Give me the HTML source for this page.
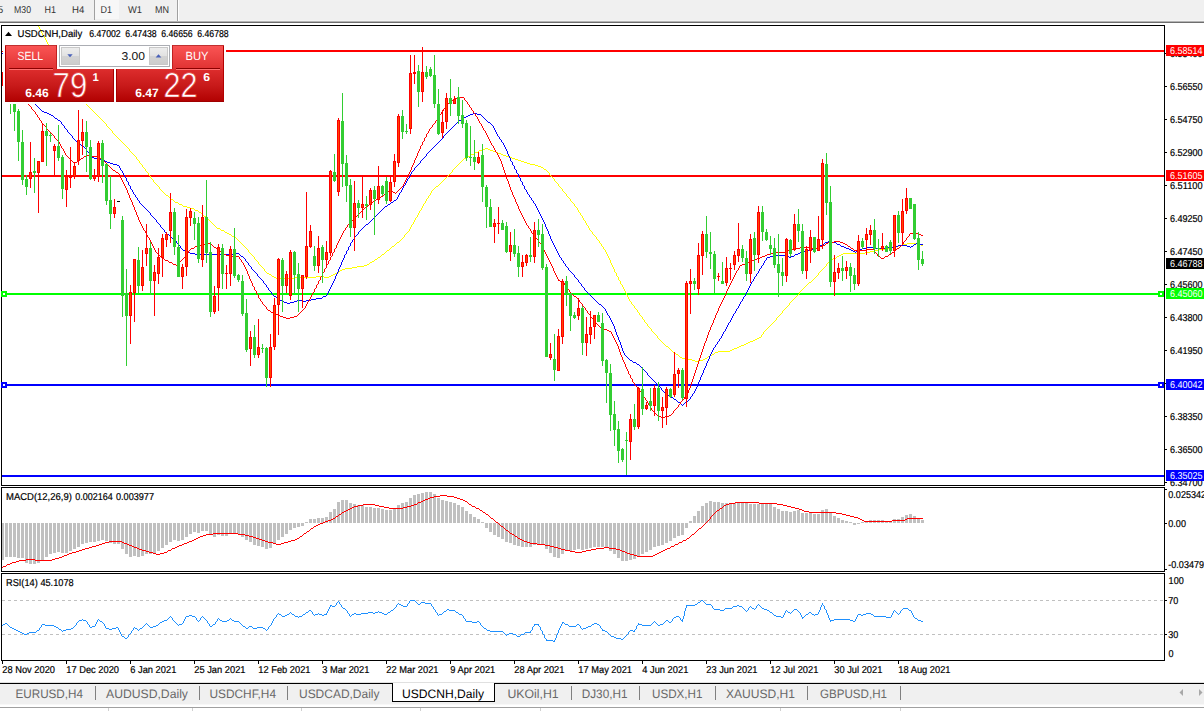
<!DOCTYPE html>
<html><head><meta charset="utf-8"><title>USDCNH</title>
<style>
html,body{margin:0;padding:0;background:#fff;}
body{width:1204px;height:711px;position:relative;overflow:hidden;}
svg{position:absolute;left:0;top:0;font-family:"Liberation Sans",sans-serif;text-rendering:geometricPrecision;}
</style></head><body>
<svg width="1204" height="711" viewBox="0 0 1204 711">
<defs>
<linearGradient id="gt" x1="0" y1="45" x2="0" y2="70" gradientUnits="userSpaceOnUse"><stop offset="0" stop-color="#fb5555"/><stop offset="1" stop-color="#df3131"/></linearGradient>
<linearGradient id="gb" x1="0" y1="69" x2="0" y2="102" gradientUnits="userSpaceOnUse"><stop offset="0" stop-color="#dd2d2d"/><stop offset="0.5" stop-color="#c81a1a"/><stop offset="1" stop-color="#b10000"/></linearGradient>
<linearGradient id="gg" x1="0" y1="47" x2="0" y2="65" gradientUnits="userSpaceOnUse"><stop offset="0" stop-color="#eeeeee"/><stop offset="0.48" stop-color="#e2e2e2"/><stop offset="0.52" stop-color="#d3d3d3"/><stop offset="1" stop-color="#cccccc"/></linearGradient>
<clipPath id="cm"><rect x="2" y="26" width="1162" height="459"/></clipPath>
<clipPath id="cr"><rect x="1166" y="0" width="38" height="711"/></clipPath>
</defs>
<rect x="0" y="0" width="1204" height="711" fill="#fff"/>
<g shape-rendering="crispEdges">
<rect x="0" y="0" width="1204" height="20" fill="#f0f0f0"/>
<rect x="0" y="20" width="1204" height="1" fill="#f4f4f4"/>
<rect x="0" y="21" width="1204" height="1" fill="#b4b4b4"/>
<rect x="0" y="22" width="1204" height="1" fill="#6e6e6e"/>
<rect x="95" y="0" width="24" height="19" fill="#f7f7f7"/>
<rect x="94" y="0" width="1" height="20" fill="#a0a0a0"/>
<rect x="177" y="0" width="1" height="21" fill="#a0a0a0"/>
<rect x="178" y="0" width="1" height="21" fill="#ffffff"/>
</g>
<g clip-path="url(#cm)" shape-rendering="crispEdges">
<rect x="2" y="50" width="1162" height="2" fill="#ff0000"/>
<rect x="2" y="175" width="1162" height="2" fill="#ff0000"/>
<rect x="2" y="293" width="1162" height="2" fill="#00ff00"/>
<rect x="2" y="384" width="1162" height="2" fill="#0000ff"/>
<rect x="2" y="475" width="1162" height="2" fill="#0000ff"/>
<path d="M38 26.5h1M39 27.5h1M39 28.5h1M40 29.5h1M40 30.5h1M41 31.5h1M41 32.5h1M42 33.5h1M42 34.5h1M43 35.5h1M44 36.5h1M44 37.5h1M45 38.5h1M45 39.5h1M46 40.5h1M46 41.5h1M47 42.5h1M47 43.5h1M48 44.5h1M49 45.5h1M49 46.5h1M50 47.5h1M50 48.5h1M51 49.5h1M52 50.5h1M52 51.5h1M53 52.5h1M53 53.5h1M54 54.5h1M54 55.5h1M55 56.5h1" fill="none" stroke="#ffff00" stroke-width="1" shape-rendering="crispEdges"/>
<path d="M80 95.5h1M81 96.5h1M81 97.5h1M82 98.5h1M83 99.5h1M83 100.5h1M84 101.5h1M85 102.5h1M85 103.5h1M86 104.5h1M87 105.5h1M88 106.5h1M89 107.5h1M90 108.5h1M91 109.5h1M92 110.5h1M93 111.5h1M94 112.5h1M95 113.5h1M96 114.5h1M97 115.5h1M98 116.5h1M99 117.5h1M100 118.5h1M101 119.5h1M102 120.5h1M103 121.5h1M104 122.5h1M105 123.5h1M106 124.5h1M106 125.5h1M107 126.5h1M108 127.5h1M109 128.5h1M110 129.5h1M111 130.5h1M112 131.5h1M112 132.5h1M113 133.5h1M114 134.5h1M115 135.5h1M116 136.5h1M117 137.5h1M118 138.5h1M119 139.5h1M120 140.5h1M121 141.5h1M122 142.5h1M123 143.5h1M124 144.5h1M125 145.5h1M126 146.5h1M127 147.5h1M128 148.5h1M485 148.5h3M129 149.5h1M482 149.5h3M488 149.5h2M129 150.5h1M479 150.5h3M490 150.5h3M130 151.5h1M478 151.5h1M493 151.5h3M131 152.5h1M475 152.5h3M496 152.5h2M132 153.5h1M474 153.5h1M498 153.5h3M133 154.5h1M471 154.5h3M501 154.5h2M134 155.5h1M470 155.5h1M503 155.5h3M135 156.5h1M467 156.5h3M506 156.5h3M136 157.5h1M466 157.5h1M509 157.5h3M136 158.5h1M464 158.5h2M512 158.5h3M137 159.5h1M463 159.5h1M515 159.5h3M138 160.5h1M462 160.5h1M518 160.5h3M139 161.5h1M461 161.5h1M521 161.5h3M139 162.5h1M460 162.5h1M524 162.5h3M140 163.5h1M459 163.5h1M527 163.5h3M141 164.5h1M458 164.5h1M530 164.5h5M142 165.5h1M457 165.5h1M535 165.5h3M142 166.5h1M456 166.5h1M538 166.5h3M143 167.5h1M455 167.5h1M541 167.5h2M144 168.5h1M454 168.5h1M543 168.5h1M145 169.5h1M453 169.5h1M544 169.5h2M145 170.5h1M452 170.5h1M546 170.5h1M146 171.5h1M452 171.5h1M547 171.5h1M147 172.5h1M451 172.5h1M548 172.5h1M148 173.5h1M450 173.5h1M549 173.5h1M148 174.5h1M449 174.5h1M549 174.5h1M149 175.5h1M448 175.5h1M550 175.5h1M150 176.5h1M447 176.5h1M551 176.5h1M150 177.5h1M446 177.5h1M552 177.5h1M151 178.5h1M445 178.5h1M553 178.5h1M152 179.5h1M444 179.5h1M554 179.5h1M153 180.5h1M443 180.5h1M554 180.5h1M153 181.5h1M442 181.5h1M555 181.5h1M154 182.5h1M441 182.5h1M556 182.5h1M155 183.5h1M440 183.5h1M557 183.5h1M156 184.5h1M439 184.5h1M558 184.5h1M157 185.5h1M438 185.5h1M558 185.5h1M158 186.5h1M436 186.5h2M559 186.5h1M159 187.5h1M435 187.5h1M560 187.5h1M159 188.5h1M434 188.5h1M561 188.5h1M160 189.5h1M433 189.5h1M562 189.5h1M161 190.5h1M432 190.5h1M562 190.5h1M162 191.5h1M431 191.5h1M563 191.5h1M163 192.5h1M431 192.5h1M564 192.5h1M164 193.5h1M430 193.5h1M565 193.5h1M165 194.5h1M430 194.5h1M566 194.5h1M166 195.5h2M429 195.5h1M566 195.5h1M168 196.5h1M428 196.5h1M567 196.5h1M169 197.5h1M428 197.5h1M568 197.5h1M170 198.5h1M427 198.5h1M569 198.5h1M171 199.5h2M426 199.5h1M570 199.5h1M173 200.5h1M426 200.5h1M570 200.5h1M174 201.5h1M425 201.5h1M571 201.5h1M175 202.5h3M425 202.5h1M572 202.5h1M178 203.5h1M424 203.5h1M573 203.5h1M179 204.5h3M423 204.5h1M574 204.5h1M182 205.5h1M423 205.5h1M574 205.5h1M183 206.5h4M422 206.5h1M575 206.5h1M187 207.5h3M422 207.5h1M576 207.5h1M190 208.5h4M421 208.5h1M577 208.5h1M194 209.5h1M421 209.5h1M577 209.5h1M195 210.5h3M420 210.5h1M578 210.5h1M198 211.5h1M419 211.5h1M578 211.5h1M199 212.5h2M419 212.5h1M579 212.5h1M201 213.5h1M418 213.5h1M580 213.5h1M202 214.5h1M418 214.5h1M580 214.5h1M203 215.5h1M417 215.5h1M581 215.5h1M204 216.5h2M417 216.5h1M582 216.5h1M206 217.5h1M416 217.5h1M582 217.5h1M207 218.5h1M415 218.5h1M583 218.5h1M208 219.5h1M415 219.5h1M583 219.5h1M209 220.5h1M414 220.5h1M584 220.5h1M210 221.5h1M414 221.5h1M585 221.5h1M211 222.5h1M413 222.5h1M585 222.5h1M212 223.5h1M413 223.5h1M586 223.5h1M213 224.5h1M412 224.5h1M586 224.5h1M214 225.5h1M411 225.5h1M587 225.5h1M215 226.5h1M411 226.5h1M588 226.5h1M216 227.5h1M410 227.5h1M588 227.5h1M217 228.5h3M410 228.5h1M589 228.5h1M220 229.5h1M409 229.5h1M589 229.5h1M221 230.5h3M409 230.5h1M590 230.5h1M224 231.5h1M408 231.5h1M591 231.5h1M225 232.5h2M407 232.5h1M592 232.5h1M227 233.5h2M406 233.5h1M592 233.5h1M229 234.5h2M405 234.5h1M593 234.5h1M231 235.5h1M404 235.5h1M594 235.5h1M232 236.5h2M404 236.5h1M595 236.5h1M234 237.5h2M403 237.5h1M596 237.5h1M236 238.5h1M402 238.5h1M596 238.5h1M237 239.5h1M401 239.5h1M597 239.5h1M238 240.5h1M400 240.5h1M598 240.5h1M239 241.5h1M399 241.5h1M599 241.5h1M240 242.5h1M397 242.5h2M599 242.5h1M241 243.5h1M396 243.5h1M600 243.5h1M907 243.5h11M242 244.5h1M395 244.5h1M601 244.5h1M902 244.5h5M918 244.5h3M243 245.5h1M394 245.5h1M601 245.5h1M899 245.5h3M921 245.5h2M244 246.5h1M392 246.5h2M602 246.5h1M895 246.5h4M245 247.5h1M391 247.5h1M603 247.5h1M892 247.5h3M246 248.5h1M390 248.5h1M603 248.5h1M885 248.5h7M247 249.5h1M389 249.5h1M604 249.5h1M879 249.5h6M248 250.5h1M387 250.5h2M605 250.5h1M874 250.5h5M248 251.5h1M386 251.5h1M605 251.5h1M870 251.5h4M249 252.5h1M385 252.5h1M606 252.5h1M865 252.5h5M250 253.5h1M384 253.5h1M606 253.5h1M843 253.5h22M251 254.5h1M382 254.5h2M607 254.5h1M841 254.5h2M252 255.5h1M381 255.5h1M607 255.5h1M839 255.5h2M253 256.5h1M380 256.5h1M608 256.5h1M837 256.5h2M254 257.5h1M378 257.5h2M608 257.5h1M836 257.5h1M254 258.5h1M377 258.5h1M609 258.5h1M833 258.5h3M255 259.5h1M375 259.5h2M609 259.5h1M832 259.5h1M256 260.5h1M374 260.5h1M610 260.5h1M830 260.5h2M257 261.5h1M372 261.5h2M610 261.5h1M829 261.5h1M258 262.5h1M370 262.5h2M610 262.5h1M828 262.5h1M258 263.5h1M369 263.5h1M611 263.5h1M827 263.5h1M259 264.5h1M367 264.5h2M611 264.5h1M826 264.5h1M260 265.5h1M364 265.5h3M612 265.5h1M826 265.5h1M261 266.5h1M357 266.5h7M612 266.5h1M825 266.5h1M262 267.5h1M352 267.5h5M613 267.5h1M824 267.5h1M263 268.5h1M345 268.5h7M613 268.5h1M823 268.5h1M264 269.5h1M342 269.5h3M614 269.5h1M822 269.5h1M264 270.5h1M340 270.5h2M614 270.5h1M821 270.5h1M265 271.5h1M339 271.5h1M614 271.5h1M820 271.5h1M266 272.5h1M337 272.5h2M615 272.5h1M819 272.5h1M267 273.5h2M335 273.5h2M616 273.5h1M818 273.5h1M269 274.5h2M333 274.5h2M616 274.5h1M818 274.5h1M271 275.5h1M331 275.5h2M616 275.5h1M817 275.5h1M272 276.5h2M316 276.5h8M329 276.5h2M617 276.5h1M816 276.5h1M274 277.5h2M295 277.5h21M324 277.5h5M618 277.5h1M815 277.5h1M276 278.5h19M618 278.5h1M814 278.5h1M618 279.5h1M813 279.5h1M619 280.5h1M812 280.5h1M620 281.5h1M811 281.5h1M620 282.5h1M809 282.5h2M620 283.5h1M808 283.5h1M621 284.5h1M807 284.5h1M622 285.5h1M806 285.5h1M622 286.5h1M805 286.5h1M623 287.5h1M804 287.5h1M623 288.5h1M803 288.5h1M624 289.5h1M802 289.5h1M624 290.5h1M801 290.5h1M625 291.5h1M800 291.5h1M625 292.5h1M799 292.5h1M626 293.5h1M799 293.5h1M626 294.5h1M798 294.5h1M627 295.5h1M797 295.5h1M627 296.5h1M796 296.5h1M628 297.5h1M795 297.5h1M628 298.5h1M794 298.5h1M629 299.5h1M793 299.5h1M629 300.5h1M792 300.5h1M630 301.5h1M791 301.5h1M631 302.5h1M790 302.5h1M631 303.5h1M789 303.5h1M632 304.5h1M789 304.5h1M633 305.5h1M788 305.5h1M634 306.5h1M787 306.5h1M634 307.5h1M786 307.5h1M635 308.5h1M785 308.5h1M636 309.5h1M784 309.5h1M637 310.5h1M783 310.5h1M637 311.5h1M782 311.5h1M638 312.5h1M782 312.5h1M639 313.5h1M781 313.5h1M639 314.5h1M780 314.5h1M640 315.5h1M779 315.5h1M641 316.5h1M778 316.5h1M642 317.5h1M777 317.5h1M642 318.5h1M776 318.5h1M643 319.5h1M776 319.5h1M644 320.5h1M775 320.5h1M644 321.5h1M774 321.5h1M645 322.5h1M773 322.5h1M646 323.5h1M772 323.5h1M647 324.5h1M771 324.5h1M647 325.5h1M770 325.5h1M648 326.5h1M769 326.5h1M649 327.5h1M768 327.5h1M650 328.5h1M767 328.5h1M651 329.5h1M766 329.5h1M651 330.5h1M765 330.5h1M652 331.5h1M764 331.5h1M653 332.5h1M763 332.5h1M654 333.5h1M763 333.5h1M655 334.5h1M762 334.5h1M656 335.5h1M761 335.5h1M657 336.5h1M761 336.5h1M657 337.5h1M759 337.5h2M658 338.5h1M757 338.5h2M659 339.5h1M755 339.5h2M660 340.5h1M753 340.5h2M661 341.5h1M750 341.5h3M662 342.5h1M748 342.5h2M663 343.5h1M746 343.5h2M664 344.5h1M744 344.5h2M665 345.5h1M741 345.5h3M666 346.5h2M739 346.5h2M668 347.5h1M737 347.5h2M669 348.5h1M734 348.5h3M670 349.5h1M732 349.5h2M671 350.5h1M730 350.5h2M672 351.5h1M718 351.5h12M673 352.5h2M715 352.5h3M675 353.5h1M714 353.5h1M676 354.5h2M712 354.5h2M678 355.5h1M710 355.5h2M679 356.5h1M708 356.5h2M680 357.5h2M707 357.5h1M682 358.5h5M705 358.5h2M687 359.5h5M703 359.5h2M692 360.5h3M698 360.5h5M695 361.5h3" fill="none" stroke="#ffff00" stroke-width="1" shape-rendering="crispEdges"/>
<path d="M35 104.5h1M36 105.5h1M37 106.5h1M38 107.5h1M39 108.5h1M40 109.5h1M41 110.5h1M42 111.5h2M44 112.5h3M47 113.5h2M473 113.5h4M49 114.5h2M470 114.5h3M477 114.5h4M51 115.5h2M468 115.5h2M481 115.5h1M53 116.5h1M466 116.5h2M482 116.5h1M54 117.5h1M464 117.5h2M483 117.5h1M55 118.5h2M462 118.5h2M484 118.5h1M57 119.5h1M461 119.5h1M485 119.5h1M58 120.5h2M459 120.5h2M486 120.5h1M60 121.5h1M458 121.5h1M487 121.5h1M61 122.5h1M457 122.5h1M488 122.5h2M61 123.5h1M456 123.5h1M490 123.5h1M62 124.5h1M455 124.5h1M491 124.5h1M63 125.5h1M454 125.5h1M492 125.5h1M64 126.5h1M453 126.5h1M493 126.5h1M64 127.5h1M452 127.5h1M493 127.5h1M65 128.5h1M451 128.5h1M494 128.5h1M66 129.5h1M450 129.5h1M494 129.5h1M67 130.5h1M449 130.5h1M495 130.5h1M67 131.5h1M448 131.5h1M495 131.5h1M68 132.5h1M447 132.5h1M496 132.5h1M69 133.5h1M446 133.5h1M496 133.5h1M70 134.5h1M445 134.5h1M497 134.5h1M71 135.5h1M444 135.5h1M497 135.5h1M72 136.5h1M443 136.5h1M498 136.5h1M72 137.5h1M443 137.5h1M499 137.5h1M73 138.5h1M442 138.5h1M499 138.5h1M74 139.5h1M441 139.5h1M500 139.5h1M75 140.5h1M440 140.5h1M501 140.5h1M76 141.5h1M439 141.5h1M501 141.5h1M77 142.5h2M438 142.5h1M502 142.5h1M79 143.5h1M437 143.5h1M503 143.5h1M80 144.5h1M436 144.5h1M503 144.5h1M81 145.5h1M435 145.5h1M504 145.5h1M82 146.5h2M434 146.5h1M504 146.5h1M84 147.5h1M433 147.5h1M505 147.5h1M85 148.5h1M432 148.5h1M505 148.5h1M86 149.5h1M431 149.5h1M506 149.5h1M86 150.5h1M430 150.5h1M506 150.5h1M87 151.5h1M429 151.5h1M507 151.5h1M88 152.5h1M428 152.5h1M507 152.5h1M89 153.5h1M427 153.5h1M507 153.5h1M90 154.5h1M426 154.5h1M508 154.5h1M90 155.5h1M426 155.5h1M508 155.5h1M91 156.5h1M425 156.5h1M509 156.5h1M92 157.5h2M424 157.5h1M509 157.5h1M94 158.5h5M423 158.5h1M510 158.5h1M99 159.5h3M422 159.5h1M510 159.5h1M102 160.5h3M421 160.5h1M510 160.5h1M105 161.5h2M420 161.5h1M511 161.5h1M107 162.5h3M420 162.5h1M512 162.5h1M110 163.5h3M419 163.5h1M512 163.5h1M113 164.5h4M418 164.5h1M512 164.5h1M117 165.5h2M417 165.5h1M513 165.5h1M119 166.5h1M416 166.5h1M514 166.5h1M119 167.5h1M415 167.5h1M514 167.5h1M120 168.5h1M414 168.5h1M514 168.5h1M120 169.5h1M414 169.5h1M515 169.5h1M121 170.5h1M413 170.5h1M516 170.5h1M122 171.5h1M412 171.5h1M516 171.5h1M122 172.5h1M411 172.5h1M516 172.5h1M123 173.5h1M411 173.5h1M517 173.5h1M123 174.5h1M410 174.5h1M518 174.5h1M124 175.5h1M410 175.5h1M518 175.5h1M124 176.5h1M409 176.5h1M518 176.5h1M125 177.5h1M409 177.5h1M519 177.5h1M126 178.5h1M408 178.5h1M520 178.5h1M126 179.5h1M407 179.5h1M520 179.5h1M126 180.5h1M407 180.5h1M520 180.5h1M127 181.5h1M406 181.5h1M521 181.5h1M128 182.5h1M406 182.5h1M522 182.5h1M128 183.5h1M405 183.5h1M522 183.5h1M128 184.5h1M405 184.5h1M522 184.5h1M129 185.5h1M404 185.5h1M523 185.5h1M130 186.5h1M403 186.5h1M524 186.5h1M130 187.5h1M403 187.5h1M524 187.5h1M130 188.5h1M402 188.5h1M524 188.5h1M131 189.5h1M402 189.5h1M525 189.5h1M132 190.5h1M401 190.5h1M526 190.5h1M132 191.5h1M401 191.5h1M526 191.5h1M133 192.5h1M400 192.5h1M527 192.5h1M133 193.5h1M399 193.5h1M527 193.5h1M134 194.5h1M399 194.5h1M528 194.5h1M135 195.5h1M398 195.5h1M529 195.5h1M135 196.5h1M398 196.5h1M529 196.5h1M136 197.5h1M397 197.5h1M530 197.5h1M137 198.5h1M397 198.5h1M531 198.5h1M137 199.5h1M396 199.5h1M531 199.5h1M138 200.5h1M394 200.5h2M532 200.5h1M139 201.5h1M393 201.5h1M533 201.5h1M139 202.5h1M391 202.5h2M533 202.5h1M140 203.5h1M390 203.5h1M534 203.5h1M141 204.5h1M388 204.5h2M535 204.5h1M142 205.5h1M387 205.5h1M535 205.5h1M143 206.5h1M385 206.5h2M536 206.5h1M144 207.5h1M384 207.5h1M536 207.5h1M145 208.5h1M383 208.5h1M537 208.5h1M146 209.5h1M382 209.5h1M537 209.5h1M147 210.5h1M381 210.5h1M538 210.5h1M148 211.5h1M380 211.5h1M538 211.5h1M149 212.5h1M379 212.5h1M539 212.5h1M150 213.5h1M378 213.5h1M539 213.5h1M150 214.5h1M377 214.5h1M540 214.5h1M151 215.5h1M376 215.5h1M540 215.5h1M152 216.5h1M375 216.5h1M541 216.5h1M153 217.5h1M374 217.5h1M541 217.5h1M154 218.5h1M373 218.5h1M542 218.5h1M155 219.5h1M372 219.5h1M542 219.5h1M156 220.5h1M371 220.5h1M543 220.5h1M156 221.5h1M370 221.5h1M543 221.5h1M157 222.5h1M369 222.5h1M544 222.5h1M158 223.5h1M368 223.5h1M544 223.5h1M159 224.5h1M366 224.5h2M545 224.5h1M160 225.5h1M365 225.5h1M545 225.5h1M160 226.5h1M364 226.5h1M545 226.5h1M161 227.5h1M363 227.5h1M546 227.5h1M162 228.5h1M362 228.5h1M546 228.5h1M163 229.5h1M361 229.5h1M547 229.5h1M164 230.5h1M360 230.5h1M547 230.5h1M164 231.5h1M359 231.5h1M548 231.5h1M165 232.5h1M358 232.5h1M548 232.5h1M166 233.5h1M358 233.5h1M548 233.5h1M167 234.5h2M357 234.5h1M549 234.5h1M169 235.5h1M356 235.5h1M549 235.5h1M170 236.5h1M355 236.5h1M550 236.5h1M171 237.5h1M354 237.5h1M550 237.5h1M172 238.5h2M354 238.5h1M550 238.5h1M174 239.5h1M353 239.5h1M551 239.5h1M175 240.5h1M352 240.5h1M551 240.5h1M176 241.5h1M352 241.5h1M552 241.5h1M828 241.5h3M176 242.5h1M351 242.5h1M552 242.5h1M825 242.5h3M831 242.5h5M177 243.5h1M350 243.5h1M553 243.5h1M824 243.5h1M836 243.5h1M916 243.5h3M178 244.5h1M350 244.5h1M553 244.5h1M822 244.5h2M837 244.5h3M914 244.5h2M919 244.5h4M179 245.5h1M350 245.5h1M554 245.5h1M820 245.5h2M840 245.5h1M898 245.5h9M913 245.5h1M180 246.5h1M349 246.5h1M554 246.5h1M819 246.5h1M841 246.5h3M893 246.5h5M907 246.5h3M911 246.5h2M180 247.5h1M348 247.5h1M555 247.5h1M817 247.5h2M844 247.5h2M867 247.5h8M886 247.5h7M910 247.5h1M181 248.5h1M348 248.5h1M555 248.5h1M814 248.5h3M846 248.5h3M862 248.5h5M875 248.5h11M182 249.5h1M348 249.5h1M556 249.5h1M811 249.5h3M849 249.5h2M860 249.5h2M183 250.5h3M347 250.5h1M556 250.5h1M807 250.5h4M851 250.5h2M858 250.5h2M186 251.5h1M346 251.5h1M557 251.5h1M804 251.5h3M853 251.5h2M856 251.5h2M187 252.5h3M346 252.5h1M557 252.5h1M800 252.5h4M855 252.5h1M190 253.5h5M235 253.5h4M346 253.5h1M558 253.5h1M798 253.5h2M195 254.5h40M239 254.5h1M345 254.5h1M558 254.5h1M795 254.5h3M240 255.5h1M344 255.5h1M559 255.5h1M774 255.5h12M794 255.5h1M241 256.5h2M344 256.5h1M559 256.5h1M770 256.5h4M786 256.5h3M791 256.5h3M243 257.5h1M344 257.5h1M560 257.5h1M767 257.5h3M789 257.5h2M244 258.5h1M343 258.5h1M561 258.5h1M766 258.5h1M245 259.5h1M343 259.5h1M561 259.5h1M766 259.5h1M245 260.5h1M342 260.5h1M562 260.5h1M765 260.5h1M246 261.5h1M342 261.5h1M563 261.5h1M764 261.5h1M247 262.5h1M341 262.5h1M563 262.5h1M764 262.5h1M248 263.5h1M341 263.5h1M564 263.5h1M763 263.5h1M248 264.5h1M341 264.5h1M565 264.5h1M763 264.5h1M249 265.5h1M340 265.5h1M565 265.5h1M762 265.5h1M250 266.5h1M340 266.5h1M566 266.5h1M761 266.5h1M251 267.5h1M339 267.5h1M567 267.5h1M761 267.5h1M251 268.5h1M339 268.5h1M568 268.5h1M760 268.5h1M252 269.5h1M338 269.5h1M568 269.5h1M759 269.5h1M253 270.5h1M338 270.5h1M569 270.5h1M759 270.5h1M254 271.5h1M338 271.5h1M570 271.5h1M758 271.5h1M255 272.5h1M337 272.5h1M571 272.5h1M758 272.5h1M256 273.5h1M337 273.5h1M572 273.5h1M757 273.5h1M257 274.5h1M336 274.5h1M573 274.5h1M756 274.5h1M257 275.5h1M336 275.5h1M574 275.5h1M756 275.5h1M258 276.5h1M335 276.5h1M574 276.5h1M755 276.5h1M259 277.5h1M335 277.5h1M575 277.5h1M754 277.5h1M260 278.5h1M335 278.5h1M576 278.5h1M754 278.5h1M261 279.5h1M334 279.5h1M577 279.5h1M753 279.5h1M262 280.5h1M334 280.5h1M578 280.5h1M753 280.5h1M263 281.5h1M333 281.5h1M578 281.5h1M752 281.5h1M263 282.5h1M333 282.5h1M579 282.5h1M751 282.5h1M264 283.5h1M332 283.5h1M580 283.5h1M751 283.5h1M265 284.5h1M332 284.5h1M581 284.5h1M750 284.5h1M266 285.5h1M331 285.5h1M581 285.5h1M750 285.5h1M266 286.5h1M331 286.5h1M582 286.5h1M749 286.5h1M267 287.5h1M330 287.5h1M583 287.5h1M749 287.5h1M268 288.5h1M330 288.5h1M584 288.5h1M748 288.5h1M268 289.5h1M329 289.5h1M584 289.5h1M748 289.5h1M269 290.5h1M329 290.5h1M585 290.5h1M747 290.5h1M270 291.5h1M328 291.5h1M586 291.5h1M747 291.5h1M271 292.5h1M328 292.5h1M587 292.5h1M746 292.5h1M271 293.5h1M327 293.5h1M588 293.5h1M746 293.5h1M272 294.5h1M327 294.5h1M589 294.5h1M745 294.5h1M273 295.5h1M326 295.5h1M590 295.5h1M745 295.5h1M274 296.5h2M323 296.5h3M591 296.5h1M744 296.5h1M276 297.5h1M322 297.5h1M592 297.5h1M743 297.5h1M277 298.5h2M316 298.5h6M593 298.5h1M743 298.5h1M279 299.5h1M311 299.5h5M594 299.5h1M742 299.5h1M280 300.5h2M297 300.5h5M306 300.5h5M595 300.5h1M742 300.5h1M282 301.5h2M294 301.5h3M302 301.5h4M596 301.5h1M741 301.5h1M284 302.5h3M290 302.5h4M597 302.5h1M740 302.5h1M287 303.5h3M598 303.5h1M740 303.5h1M599 304.5h2M739 304.5h1M601 305.5h1M739 305.5h1M602 306.5h1M738 306.5h1M603 307.5h1M738 307.5h1M604 308.5h1M737 308.5h1M605 309.5h1M736 309.5h1M605 310.5h1M736 310.5h1M606 311.5h1M735 311.5h1M606 312.5h1M735 312.5h1M607 313.5h1M734 313.5h1M607 314.5h1M733 314.5h1M608 315.5h1M733 315.5h1M609 316.5h1M732 316.5h1M609 317.5h1M732 317.5h1M610 318.5h1M731 318.5h1M610 319.5h1M731 319.5h1M611 320.5h1M730 320.5h1M611 321.5h1M730 321.5h1M612 322.5h1M729 322.5h1M612 323.5h1M728 323.5h1M613 324.5h1M728 324.5h1M613 325.5h1M727 325.5h1M614 326.5h1M727 326.5h1M614 327.5h1M726 327.5h1M614 328.5h1M726 328.5h1M615 329.5h1M725 329.5h1M615 330.5h1M725 330.5h1M615 331.5h1M724 331.5h1M616 332.5h1M723 332.5h1M616 333.5h1M723 333.5h1M616 334.5h1M722 334.5h1M617 335.5h1M722 335.5h1M617 336.5h1M721 336.5h1M618 337.5h1M721 337.5h1M618 338.5h1M720 338.5h1M618 339.5h1M719 339.5h1M619 340.5h1M719 340.5h1M619 341.5h1M718 341.5h1M620 342.5h1M717 342.5h1M620 343.5h1M717 343.5h1M620 344.5h1M716 344.5h1M621 345.5h1M715 345.5h1M621 346.5h1M715 346.5h1M621 347.5h1M714 347.5h1M622 348.5h1M713 348.5h1M622 349.5h1M713 349.5h1M622 350.5h1M712 350.5h1M623 351.5h1M712 351.5h1M623 352.5h1M711 352.5h1M624 353.5h1M711 353.5h1M624 354.5h1M710 354.5h1M625 355.5h1M710 355.5h1M626 356.5h1M709 356.5h1M627 357.5h1M709 357.5h1M628 358.5h1M709 358.5h1M629 359.5h1M708 359.5h1M630 360.5h2M708 360.5h1M632 361.5h1M707 361.5h1M633 362.5h3M707 362.5h1M636 363.5h1M706 363.5h1M637 364.5h2M706 364.5h1M639 365.5h1M706 365.5h1M640 366.5h1M705 366.5h1M641 367.5h1M705 367.5h1M642 368.5h1M704 368.5h1M643 369.5h1M704 369.5h1M644 370.5h1M703 370.5h1M645 371.5h1M703 371.5h1M646 372.5h1M703 372.5h1M647 373.5h1M702 373.5h1M647 374.5h1M702 374.5h1M648 375.5h1M701 375.5h1M649 376.5h1M701 376.5h1M650 377.5h1M700 377.5h1M651 378.5h1M700 378.5h1M652 379.5h1M700 379.5h1M653 380.5h1M699 380.5h1M654 381.5h1M699 381.5h1M655 382.5h1M698 382.5h1M656 383.5h1M698 383.5h1M657 384.5h1M697 384.5h1M658 385.5h1M697 385.5h1M659 386.5h1M697 386.5h1M660 387.5h1M696 387.5h1M661 388.5h1M696 388.5h1M661 389.5h1M695 389.5h1M662 390.5h1M695 390.5h1M663 391.5h1M694 391.5h1M664 392.5h1M694 392.5h1M665 393.5h2M693 393.5h1M667 394.5h1M692 394.5h1M668 395.5h2M692 395.5h1M670 396.5h1M691 396.5h1M671 397.5h2M690 397.5h1M673 398.5h1M690 398.5h1M674 399.5h2M689 399.5h1M676 400.5h1M688 400.5h1M677 401.5h1M687 401.5h1M678 402.5h2M685 402.5h2M680 403.5h1M684 403.5h1M681 404.5h1M683 404.5h1M682 405.5h1" fill="none" stroke="#0000ff" stroke-width="1" shape-rendering="crispEdges"/>
<path d="M460 97.5h4M455 98.5h5M464 98.5h1M454 99.5h1M464 99.5h1M451 100.5h3M465 100.5h1M450 101.5h1M466 101.5h1M449 102.5h1M467 102.5h1M448 103.5h1M467 103.5h1M28 104.5h1M447 104.5h1M468 104.5h1M29 105.5h1M447 105.5h1M469 105.5h1M30 106.5h1M446 106.5h1M469 106.5h1M31 107.5h1M445 107.5h1M470 107.5h1M31 108.5h1M444 108.5h1M471 108.5h1M32 109.5h1M443 109.5h1M471 109.5h1M33 110.5h1M443 110.5h1M472 110.5h1M34 111.5h1M442 111.5h1M473 111.5h1M35 112.5h1M441 112.5h1M473 112.5h1M35 113.5h1M441 113.5h1M474 113.5h1M36 114.5h1M440 114.5h1M475 114.5h1M37 115.5h1M439 115.5h1M475 115.5h1M37 116.5h1M439 116.5h1M476 116.5h1M38 117.5h1M438 117.5h1M477 117.5h1M39 118.5h1M437 118.5h1M477 118.5h1M39 119.5h1M437 119.5h1M478 119.5h1M40 120.5h1M436 120.5h1M478 120.5h1M41 121.5h1M435 121.5h1M479 121.5h1M41 122.5h1M435 122.5h1M479 122.5h1M42 123.5h1M434 123.5h1M480 123.5h1M43 124.5h1M433 124.5h1M481 124.5h1M44 125.5h1M432 125.5h1M481 125.5h1M45 126.5h1M432 126.5h1M482 126.5h1M46 127.5h1M431 127.5h1M482 127.5h1M46 128.5h1M430 128.5h1M483 128.5h1M47 129.5h1M429 129.5h1M483 129.5h1M48 130.5h1M429 130.5h1M484 130.5h1M49 131.5h1M428 131.5h1M485 131.5h1M50 132.5h1M428 132.5h1M485 132.5h1M51 133.5h1M427 133.5h1M486 133.5h1M52 134.5h1M426 134.5h1M486 134.5h1M53 135.5h1M426 135.5h1M487 135.5h1M54 136.5h1M426 136.5h1M487 136.5h1M54 137.5h1M425 137.5h1M488 137.5h1M55 138.5h1M424 138.5h1M488 138.5h1M56 139.5h1M424 139.5h1M489 139.5h1M57 140.5h1M424 140.5h1M489 140.5h1M58 141.5h1M423 141.5h1M490 141.5h1M59 142.5h1M422 142.5h1M490 142.5h1M59 143.5h1M422 143.5h1M491 143.5h1M60 144.5h1M422 144.5h1M491 144.5h1M60 145.5h1M421 145.5h1M492 145.5h1M61 146.5h1M420 146.5h1M493 146.5h1M61 147.5h1M420 147.5h1M493 147.5h1M62 148.5h1M420 148.5h1M494 148.5h1M63 149.5h1M419 149.5h1M494 149.5h1M63 150.5h1M419 150.5h1M495 150.5h1M64 151.5h1M418 151.5h1M495 151.5h1M64 152.5h1M418 152.5h1M496 152.5h1M65 153.5h1M417 153.5h1M497 153.5h1M65 154.5h1M417 154.5h1M497 154.5h1M66 155.5h1M86 155.5h5M417 155.5h1M498 155.5h1M67 156.5h1M84 156.5h2M91 156.5h6M416 156.5h1M498 156.5h1M68 157.5h1M83 157.5h1M97 157.5h2M416 157.5h1M499 157.5h1M69 158.5h1M81 158.5h2M99 158.5h2M415 158.5h1M499 158.5h1M70 159.5h1M80 159.5h1M101 159.5h1M415 159.5h1M500 159.5h1M71 160.5h1M78 160.5h2M102 160.5h2M414 160.5h1M500 160.5h1M72 161.5h1M77 161.5h1M104 161.5h1M414 161.5h1M501 161.5h1M73 162.5h1M75 162.5h2M105 162.5h1M414 162.5h1M501 162.5h1M74 163.5h1M106 163.5h1M413 163.5h1M501 163.5h1M107 164.5h1M413 164.5h1M502 164.5h1M108 165.5h1M412 165.5h1M502 165.5h1M109 166.5h1M412 166.5h1M502 166.5h1M110 167.5h1M411 167.5h1M503 167.5h1M111 168.5h1M411 168.5h1M503 168.5h1M112 169.5h1M411 169.5h1M503 169.5h1M113 170.5h2M410 170.5h1M504 170.5h1M115 171.5h1M410 171.5h1M504 171.5h1M116 172.5h2M409 172.5h1M504 172.5h1M118 173.5h1M409 173.5h1M505 173.5h1M119 174.5h1M408 174.5h1M505 174.5h1M119 175.5h1M408 175.5h1M505 175.5h1M120 176.5h1M407 176.5h1M506 176.5h1M120 177.5h1M407 177.5h1M506 177.5h1M121 178.5h1M406 178.5h1M506 178.5h1M121 179.5h1M406 179.5h1M507 179.5h1M122 180.5h1M405 180.5h1M507 180.5h1M122 181.5h1M405 181.5h1M508 181.5h1M123 182.5h1M404 182.5h1M508 182.5h1M123 183.5h1M404 183.5h1M508 183.5h1M124 184.5h1M403 184.5h1M509 184.5h1M124 185.5h1M403 185.5h1M509 185.5h1M125 186.5h1M402 186.5h1M509 186.5h1M125 187.5h1M401 187.5h1M510 187.5h1M126 188.5h1M400 188.5h1M510 188.5h1M126 189.5h1M399 189.5h1M510 189.5h1M127 190.5h1M390 190.5h1M398 190.5h1M511 190.5h1M127 191.5h1M388 191.5h2M391 191.5h2M397 191.5h1M511 191.5h1M127 192.5h1M387 192.5h1M393 192.5h2M396 192.5h1M512 192.5h1M128 193.5h1M386 193.5h1M395 193.5h1M512 193.5h1M128 194.5h1M384 194.5h2M512 194.5h1M129 195.5h1M383 195.5h1M513 195.5h1M129 196.5h1M381 196.5h2M513 196.5h1M129 197.5h1M380 197.5h1M514 197.5h1M130 198.5h1M378 198.5h2M514 198.5h1M130 199.5h1M376 199.5h2M515 199.5h1M131 200.5h1M375 200.5h1M515 200.5h1M131 201.5h1M373 201.5h2M515 201.5h1M132 202.5h1M371 202.5h2M516 202.5h1M132 203.5h1M370 203.5h1M516 203.5h1M132 204.5h1M369 204.5h1M517 204.5h1M133 205.5h1M368 205.5h1M517 205.5h1M133 206.5h1M366 206.5h2M518 206.5h1M134 207.5h1M365 207.5h1M518 207.5h1M134 208.5h1M364 208.5h1M518 208.5h1M134 209.5h1M363 209.5h1M519 209.5h1M135 210.5h1M362 210.5h1M519 210.5h1M135 211.5h1M361 211.5h1M520 211.5h1M136 212.5h1M360 212.5h1M520 212.5h1M136 213.5h1M359 213.5h1M521 213.5h1M136 214.5h1M358 214.5h1M521 214.5h1M137 215.5h1M357 215.5h1M522 215.5h1M137 216.5h1M356 216.5h1M522 216.5h1M138 217.5h1M355 217.5h1M523 217.5h1M138 218.5h1M354 218.5h1M523 218.5h1M138 219.5h1M353 219.5h1M524 219.5h1M139 220.5h1M352 220.5h1M524 220.5h1M139 221.5h1M351 221.5h1M525 221.5h1M140 222.5h1M350 222.5h1M525 222.5h1M140 223.5h1M349 223.5h1M526 223.5h1M141 224.5h1M348 224.5h1M526 224.5h1M141 225.5h1M347 225.5h1M527 225.5h1M142 226.5h1M347 226.5h1M528 226.5h1M142 227.5h1M346 227.5h1M528 227.5h1M143 228.5h1M345 228.5h1M529 228.5h1M143 229.5h1M345 229.5h1M530 229.5h1M144 230.5h1M344 230.5h1M530 230.5h1M145 231.5h1M343 231.5h1M531 231.5h1M145 232.5h1M343 232.5h1M531 232.5h1M146 233.5h1M342 233.5h1M532 233.5h1M910 233.5h8M146 234.5h1M342 234.5h1M533 234.5h1M909 234.5h1M918 234.5h3M147 235.5h1M341 235.5h1M534 235.5h1M909 235.5h1M921 235.5h2M147 236.5h1M341 236.5h1M534 236.5h1M908 236.5h1M148 237.5h1M340 237.5h1M535 237.5h1M907 237.5h1M149 238.5h1M340 238.5h1M536 238.5h1M906 238.5h1M149 239.5h1M339 239.5h1M537 239.5h1M906 239.5h1M150 240.5h1M339 240.5h1M538 240.5h1M905 240.5h1M150 241.5h1M338 241.5h1M538 241.5h1M834 241.5h6M904 241.5h1M151 242.5h1M338 242.5h1M539 242.5h1M828 242.5h6M840 242.5h3M903 242.5h1M151 243.5h1M207 243.5h3M337 243.5h1M540 243.5h1M826 243.5h2M843 243.5h2M903 243.5h1M152 244.5h1M201 244.5h6M210 244.5h2M337 244.5h1M541 244.5h1M825 244.5h1M845 244.5h2M902 244.5h1M152 245.5h1M198 245.5h3M212 245.5h1M336 245.5h1M541 245.5h1M823 245.5h2M847 245.5h1M901 245.5h1M153 246.5h1M195 246.5h3M213 246.5h1M336 246.5h1M542 246.5h1M820 246.5h3M848 246.5h2M900 246.5h1M153 247.5h1M194 247.5h1M214 247.5h2M336 247.5h1M542 247.5h1M800 247.5h9M817 247.5h3M850 247.5h1M899 247.5h1M154 248.5h1M191 248.5h3M216 248.5h1M335 248.5h1M543 248.5h1M793 248.5h7M809 248.5h8M851 248.5h2M897 248.5h2M154 249.5h1M190 249.5h1M217 249.5h2M334 249.5h1M543 249.5h1M791 249.5h2M853 249.5h1M867 249.5h7M896 249.5h1M155 250.5h1M189 250.5h1M219 250.5h1M334 250.5h1M544 250.5h1M788 250.5h3M854 250.5h13M874 250.5h1M895 250.5h1M155 251.5h1M188 251.5h1M220 251.5h1M334 251.5h1M544 251.5h1M786 251.5h2M874 251.5h1M894 251.5h1M156 252.5h1M188 252.5h1M221 252.5h2M333 252.5h1M545 252.5h1M774 252.5h12M875 252.5h1M892 252.5h2M157 253.5h1M187 253.5h1M223 253.5h1M332 253.5h1M545 253.5h1M771 253.5h3M876 253.5h1M891 253.5h1M158 254.5h1M186 254.5h1M224 254.5h2M332 254.5h1M546 254.5h1M767 254.5h4M877 254.5h1M889 254.5h2M159 255.5h1M185 255.5h1M226 255.5h6M332 255.5h1M546 255.5h1M765 255.5h2M877 255.5h1M888 255.5h1M160 256.5h2M185 256.5h1M232 256.5h7M331 256.5h1M547 256.5h1M762 256.5h3M878 256.5h2M885 256.5h3M162 257.5h1M184 257.5h1M239 257.5h1M330 257.5h1M547 257.5h1M760 257.5h2M880 257.5h1M884 257.5h1M163 258.5h1M183 258.5h1M239 258.5h1M330 258.5h1M548 258.5h1M757 258.5h3M881 258.5h3M164 259.5h1M182 259.5h1M240 259.5h1M330 259.5h1M548 259.5h1M755 259.5h2M165 260.5h3M181 260.5h1M241 260.5h1M329 260.5h1M549 260.5h1M752 260.5h3M168 261.5h1M180 261.5h1M241 261.5h1M328 261.5h1M549 261.5h1M750 261.5h2M169 262.5h3M179 262.5h1M242 262.5h1M328 262.5h1M550 262.5h1M747 262.5h3M172 263.5h1M178 263.5h1M243 263.5h1M328 263.5h1M550 263.5h1M745 263.5h2M173 264.5h3M177 264.5h1M243 264.5h1M327 264.5h1M551 264.5h1M742 264.5h3M176 265.5h1M244 265.5h1M326 265.5h1M551 265.5h1M740 265.5h2M244 266.5h1M326 266.5h1M552 266.5h1M739 266.5h1M245 267.5h1M326 267.5h1M552 267.5h1M739 267.5h1M245 268.5h1M325 268.5h1M553 268.5h1M738 268.5h1M246 269.5h1M324 269.5h1M553 269.5h1M738 269.5h1M246 270.5h1M324 270.5h1M553 270.5h1M737 270.5h1M247 271.5h1M324 271.5h1M554 271.5h1M736 271.5h1M247 272.5h1M323 272.5h1M554 272.5h1M736 272.5h1M247 273.5h1M322 273.5h1M555 273.5h1M735 273.5h1M248 274.5h1M322 274.5h1M555 274.5h1M735 274.5h1M248 275.5h1M322 275.5h1M556 275.5h1M734 275.5h1M249 276.5h1M321 276.5h1M556 276.5h1M734 276.5h1M249 277.5h1M320 277.5h1M557 277.5h1M733 277.5h1M249 278.5h1M320 278.5h1M557 278.5h1M733 278.5h1M250 279.5h1M320 279.5h1M558 279.5h1M732 279.5h1M250 280.5h1M319 280.5h1M558 280.5h2M732 280.5h1M251 281.5h1M318 281.5h1M560 281.5h2M731 281.5h1M251 282.5h1M318 282.5h1M562 282.5h2M731 282.5h1M252 283.5h1M318 283.5h1M564 283.5h1M730 283.5h1M252 284.5h1M317 284.5h1M564 284.5h1M730 284.5h1M252 285.5h1M316 285.5h1M565 285.5h1M729 285.5h1M253 286.5h1M316 286.5h1M566 286.5h1M729 286.5h1M254 287.5h1M316 287.5h1M566 287.5h1M728 287.5h1M254 288.5h1M315 288.5h1M567 288.5h1M728 288.5h1M254 289.5h1M314 289.5h1M568 289.5h1M727 289.5h1M255 290.5h1M314 290.5h1M569 290.5h1M727 290.5h1M256 291.5h1M314 291.5h1M569 291.5h1M726 291.5h1M256 292.5h1M313 292.5h1M570 292.5h1M726 292.5h1M256 293.5h1M312 293.5h1M571 293.5h1M726 293.5h1M257 294.5h1M312 294.5h1M572 294.5h1M725 294.5h1M258 295.5h1M311 295.5h1M573 295.5h1M725 295.5h1M258 296.5h1M311 296.5h1M574 296.5h2M724 296.5h1M258 297.5h1M310 297.5h1M576 297.5h1M724 297.5h1M259 298.5h1M310 298.5h1M577 298.5h1M723 298.5h1M260 299.5h1M309 299.5h1M578 299.5h1M723 299.5h1M260 300.5h1M309 300.5h1M579 300.5h1M722 300.5h1M261 301.5h1M308 301.5h1M579 301.5h1M722 301.5h1M262 302.5h1M307 302.5h1M580 302.5h1M721 302.5h1M262 303.5h1M307 303.5h1M581 303.5h1M721 303.5h1M263 304.5h1M306 304.5h1M582 304.5h1M720 304.5h1M264 305.5h1M306 305.5h1M582 305.5h1M720 305.5h1M265 306.5h1M305 306.5h1M583 306.5h1M719 306.5h1M266 307.5h1M305 307.5h1M584 307.5h1M719 307.5h1M266 308.5h1M304 308.5h1M585 308.5h1M718 308.5h1M267 309.5h1M303 309.5h1M585 309.5h1M718 309.5h1M268 310.5h2M302 310.5h1M586 310.5h1M718 310.5h1M270 311.5h1M301 311.5h1M587 311.5h1M717 311.5h1M271 312.5h3M300 312.5h1M587 312.5h1M717 312.5h1M274 313.5h1M299 313.5h1M588 313.5h1M716 313.5h1M275 314.5h3M298 314.5h1M589 314.5h1M716 314.5h1M278 315.5h2M297 315.5h1M590 315.5h1M715 315.5h1M280 316.5h3M294 316.5h3M590 316.5h1M715 316.5h1M283 317.5h3M290 317.5h4M591 317.5h1M715 317.5h1M286 318.5h4M592 318.5h1M714 318.5h1M593 319.5h1M714 319.5h1M593 320.5h1M713 320.5h1M594 321.5h1M713 321.5h1M595 322.5h1M713 322.5h1M596 323.5h1M712 323.5h1M597 324.5h1M712 324.5h1M598 325.5h1M711 325.5h1M599 326.5h1M711 326.5h1M600 327.5h2M710 327.5h1M602 328.5h2M710 328.5h1M604 329.5h3M710 329.5h1M607 330.5h2M709 330.5h1M609 331.5h2M709 331.5h1M611 332.5h1M708 332.5h1M611 333.5h1M708 333.5h1M612 334.5h1M708 334.5h1M612 335.5h1M707 335.5h1M613 336.5h1M707 336.5h1M613 337.5h1M707 337.5h1M614 338.5h1M706 338.5h1M614 339.5h1M706 339.5h1M615 340.5h1M706 340.5h1M615 341.5h1M705 341.5h1M616 342.5h1M705 342.5h1M616 343.5h1M704 343.5h1M617 344.5h1M704 344.5h1M617 345.5h1M704 345.5h1M618 346.5h1M703 346.5h1M618 347.5h1M703 347.5h1M618 348.5h1M703 348.5h1M619 349.5h1M702 349.5h1M619 350.5h1M702 350.5h1M619 351.5h1M702 351.5h1M620 352.5h1M701 352.5h1M620 353.5h1M701 353.5h1M620 354.5h1M701 354.5h1M621 355.5h1M700 355.5h1M621 356.5h1M700 356.5h1M622 357.5h1M700 357.5h1M622 358.5h1M699 358.5h1M622 359.5h1M699 359.5h1M623 360.5h1M699 360.5h1M623 361.5h1M698 361.5h1M624 362.5h1M698 362.5h1M624 363.5h1M698 363.5h1M625 364.5h1M697 364.5h1M625 365.5h1M697 365.5h1M625 366.5h1M697 366.5h1M626 367.5h1M696 367.5h1M626 368.5h1M696 368.5h1M627 369.5h1M696 369.5h1M627 370.5h1M695 370.5h1M628 371.5h1M695 371.5h1M628 372.5h1M695 372.5h1M628 373.5h1M694 373.5h1M629 374.5h1M694 374.5h1M630 375.5h1M694 375.5h1M630 376.5h1M693 376.5h1M630 377.5h1M693 377.5h1M631 378.5h1M693 378.5h1M632 379.5h1M692 379.5h1M632 380.5h1M692 380.5h1M632 381.5h1M692 381.5h1M633 382.5h1M691 382.5h1M634 383.5h1M691 383.5h1M634 384.5h1M691 384.5h1M635 385.5h1M690 385.5h1M636 386.5h1M690 386.5h1M637 387.5h1M690 387.5h1M637 388.5h1M689 388.5h1M638 389.5h1M689 389.5h1M639 390.5h1M688 390.5h1M640 391.5h1M688 391.5h1M641 392.5h1M688 392.5h1M641 393.5h1M687 393.5h1M642 394.5h1M687 394.5h1M643 395.5h1M686 395.5h1M643 396.5h1M685 396.5h1M644 397.5h1M684 397.5h1M645 398.5h1M684 398.5h1M645 399.5h1M683 399.5h1M646 400.5h1M682 400.5h1M647 401.5h1M681 401.5h1M647 402.5h1M680 402.5h1M648 403.5h1M680 403.5h1M648 404.5h1M679 404.5h1M649 405.5h1M678 405.5h1M650 406.5h1M678 406.5h1M650 407.5h1M677 407.5h1M651 408.5h1M676 408.5h1M651 409.5h1M675 409.5h1M652 410.5h1M674 410.5h1M653 411.5h1M673 411.5h1M654 412.5h1M673 412.5h1M655 413.5h1M672 413.5h1M656 414.5h1M671 414.5h1M657 415.5h1M669 415.5h2M658 416.5h3M665 416.5h4M661 417.5h4" fill="none" stroke="#ff0000" stroke-width="1" shape-rendering="crispEdges"/>
<rect x="10" y="95" width="1" height="19" fill="#32cd32"/>
<rect x="9" y="95" width="3" height="8" fill="#32cd32"/>
<rect x="14" y="95" width="1" height="36" fill="#32cd32"/>
<rect x="13" y="95" width="3" height="17" fill="#32cd32"/>
<rect x="18" y="109" width="1" height="52" fill="#32cd32"/>
<rect x="17" y="111" width="3" height="31" fill="#32cd32"/>
<rect x="22" y="130" width="1" height="55" fill="#32cd32"/>
<rect x="21" y="142" width="3" height="38" fill="#32cd32"/>
<rect x="26" y="175" width="1" height="20" fill="#32cd32"/>
<rect x="25" y="179" width="3" height="8" fill="#32cd32"/>
<rect x="30" y="142" width="1" height="46" fill="#ff0000"/>
<rect x="29" y="172" width="3" height="7" fill="#ff0000"/>
<rect x="30" y="173" width="1" height="5" fill="#ff4500"/>
<rect x="34" y="158" width="1" height="35" fill="#32cd32"/>
<rect x="33" y="171" width="3" height="2" fill="#32cd32"/>
<rect x="38" y="161" width="1" height="52" fill="#ff0000"/>
<rect x="37" y="161" width="3" height="12" fill="#ff0000"/>
<rect x="38" y="162" width="1" height="10" fill="#ff4500"/>
<rect x="42" y="124" width="1" height="38" fill="#ff0000"/>
<rect x="41" y="131" width="3" height="31" fill="#ff0000"/>
<rect x="42" y="132" width="1" height="29" fill="#ff4500"/>
<rect x="46" y="123" width="1" height="43" fill="#32cd32"/>
<rect x="45" y="131" width="3" height="5" fill="#32cd32"/>
<rect x="50" y="133" width="1" height="9" fill="#32cd32"/>
<rect x="49" y="135" width="3" height="1" fill="#32cd32"/>
<rect x="54" y="144" width="1" height="32" fill="#ff0000"/>
<rect x="53" y="146" width="3" height="5" fill="#ff0000"/>
<rect x="54" y="147" width="1" height="3" fill="#ff4500"/>
<rect x="58" y="125" width="1" height="36" fill="#32cd32"/>
<rect x="57" y="146" width="3" height="12" fill="#32cd32"/>
<rect x="62" y="155" width="1" height="44" fill="#32cd32"/>
<rect x="61" y="157" width="3" height="32" fill="#32cd32"/>
<rect x="66" y="170" width="1" height="37" fill="#ff0000"/>
<rect x="65" y="176" width="3" height="14" fill="#ff0000"/>
<rect x="66" y="177" width="1" height="12" fill="#ff4500"/>
<rect x="70" y="147" width="1" height="41" fill="#ff0000"/>
<rect x="69" y="176" width="3" height="2" fill="#ff0000"/>
<rect x="74" y="162" width="1" height="17" fill="#ff0000"/>
<rect x="73" y="166" width="3" height="11" fill="#ff0000"/>
<rect x="74" y="167" width="1" height="9" fill="#ff4500"/>
<rect x="78" y="110" width="1" height="55" fill="#ff0000"/>
<rect x="77" y="140" width="3" height="21" fill="#ff0000"/>
<rect x="78" y="141" width="1" height="19" fill="#ff4500"/>
<rect x="82" y="119" width="1" height="36" fill="#ff0000"/>
<rect x="81" y="132" width="3" height="9" fill="#ff0000"/>
<rect x="82" y="133" width="1" height="7" fill="#ff4500"/>
<rect x="86" y="121" width="1" height="51" fill="#32cd32"/>
<rect x="85" y="132" width="3" height="15" fill="#32cd32"/>
<rect x="90" y="140" width="1" height="40" fill="#32cd32"/>
<rect x="89" y="147" width="3" height="32" fill="#32cd32"/>
<rect x="94" y="169" width="1" height="12" fill="#ff0000"/>
<rect x="93" y="176" width="3" height="3" fill="#ff0000"/>
<rect x="94" y="177" width="1" height="1" fill="#ff4500"/>
<rect x="98" y="141" width="1" height="41" fill="#ff0000"/>
<rect x="97" y="143" width="3" height="34" fill="#ff0000"/>
<rect x="98" y="144" width="1" height="32" fill="#ff4500"/>
<rect x="102" y="140" width="1" height="43" fill="#32cd32"/>
<rect x="101" y="143" width="3" height="23" fill="#32cd32"/>
<rect x="106" y="164" width="1" height="41" fill="#32cd32"/>
<rect x="105" y="164" width="3" height="37" fill="#32cd32"/>
<rect x="110" y="176" width="1" height="53" fill="#32cd32"/>
<rect x="109" y="200" width="3" height="14" fill="#32cd32"/>
<rect x="114" y="199" width="1" height="19" fill="#ff0000"/>
<rect x="113" y="207" width="3" height="7" fill="#ff0000"/>
<rect x="114" y="208" width="1" height="5" fill="#ff4500"/>
<rect x="118" y="201" width="1" height="1" fill="#000"/>
<rect x="117" y="201" width="3" height="1" fill="#000"/>
<rect x="122" y="216" width="1" height="101" fill="#32cd32"/>
<rect x="121" y="220" width="3" height="76" fill="#32cd32"/>
<rect x="126" y="269" width="1" height="97" fill="#32cd32"/>
<rect x="125" y="293" width="3" height="23" fill="#32cd32"/>
<rect x="130" y="285" width="1" height="59" fill="#ff0000"/>
<rect x="129" y="292" width="3" height="24" fill="#ff0000"/>
<rect x="130" y="293" width="1" height="22" fill="#ff4500"/>
<rect x="134" y="259" width="1" height="63" fill="#ff0000"/>
<rect x="133" y="259" width="3" height="34" fill="#ff0000"/>
<rect x="134" y="260" width="1" height="32" fill="#ff4500"/>
<rect x="138" y="247" width="1" height="46" fill="#32cd32"/>
<rect x="137" y="260" width="3" height="26" fill="#32cd32"/>
<rect x="142" y="250" width="1" height="41" fill="#ff0000"/>
<rect x="141" y="267" width="3" height="19" fill="#ff0000"/>
<rect x="142" y="268" width="1" height="17" fill="#ff4500"/>
<rect x="146" y="224" width="1" height="42" fill="#ff0000"/>
<rect x="145" y="248" width="3" height="6" fill="#ff0000"/>
<rect x="146" y="249" width="1" height="4" fill="#ff4500"/>
<rect x="150" y="242" width="1" height="53" fill="#32cd32"/>
<rect x="149" y="248" width="3" height="33" fill="#32cd32"/>
<rect x="154" y="265" width="1" height="51" fill="#ff0000"/>
<rect x="153" y="272" width="3" height="9" fill="#ff0000"/>
<rect x="154" y="273" width="1" height="7" fill="#ff4500"/>
<rect x="158" y="248" width="1" height="36" fill="#ff0000"/>
<rect x="157" y="257" width="3" height="17" fill="#ff0000"/>
<rect x="158" y="258" width="1" height="15" fill="#ff4500"/>
<rect x="162" y="234" width="1" height="43" fill="#ff0000"/>
<rect x="161" y="238" width="3" height="20" fill="#ff0000"/>
<rect x="162" y="239" width="1" height="18" fill="#ff4500"/>
<rect x="166" y="232" width="1" height="15" fill="#ff0000"/>
<rect x="165" y="234" width="3" height="6" fill="#ff0000"/>
<rect x="166" y="235" width="1" height="4" fill="#ff4500"/>
<rect x="170" y="193" width="1" height="50" fill="#ff0000"/>
<rect x="169" y="212" width="3" height="19" fill="#ff0000"/>
<rect x="170" y="213" width="1" height="17" fill="#ff4500"/>
<rect x="174" y="208" width="1" height="47" fill="#32cd32"/>
<rect x="173" y="212" width="3" height="35" fill="#32cd32"/>
<rect x="178" y="235" width="1" height="42" fill="#32cd32"/>
<rect x="177" y="247" width="3" height="30" fill="#32cd32"/>
<rect x="182" y="264" width="1" height="25" fill="#ff0000"/>
<rect x="181" y="267" width="3" height="10" fill="#ff0000"/>
<rect x="182" y="268" width="1" height="8" fill="#ff4500"/>
<rect x="186" y="209" width="1" height="67" fill="#ff0000"/>
<rect x="185" y="217" width="3" height="50" fill="#ff0000"/>
<rect x="186" y="218" width="1" height="48" fill="#ff4500"/>
<rect x="190" y="208" width="1" height="18" fill="#ff0000"/>
<rect x="189" y="211" width="3" height="7" fill="#ff0000"/>
<rect x="190" y="212" width="1" height="5" fill="#ff4500"/>
<rect x="194" y="212" width="1" height="28" fill="#32cd32"/>
<rect x="193" y="218" width="3" height="6" fill="#32cd32"/>
<rect x="198" y="217" width="1" height="46" fill="#32cd32"/>
<rect x="197" y="223" width="3" height="36" fill="#32cd32"/>
<rect x="202" y="205" width="1" height="62" fill="#ff0000"/>
<rect x="201" y="217" width="3" height="43" fill="#ff0000"/>
<rect x="202" y="218" width="1" height="41" fill="#ff4500"/>
<rect x="206" y="180" width="1" height="83" fill="#32cd32"/>
<rect x="205" y="217" width="3" height="36" fill="#32cd32"/>
<rect x="210" y="242" width="1" height="75" fill="#32cd32"/>
<rect x="209" y="252" width="3" height="60" fill="#32cd32"/>
<rect x="214" y="286" width="1" height="28" fill="#ff0000"/>
<rect x="213" y="296" width="3" height="16" fill="#ff0000"/>
<rect x="214" y="297" width="1" height="14" fill="#ff4500"/>
<rect x="218" y="244" width="1" height="67" fill="#ff0000"/>
<rect x="217" y="247" width="3" height="41" fill="#ff0000"/>
<rect x="218" y="248" width="1" height="39" fill="#ff4500"/>
<rect x="222" y="244" width="1" height="45" fill="#32cd32"/>
<rect x="221" y="248" width="3" height="26" fill="#32cd32"/>
<rect x="226" y="265" width="1" height="24" fill="#ff0000"/>
<rect x="225" y="273" width="3" height="1" fill="#ff0000"/>
<rect x="230" y="246" width="1" height="40" fill="#ff0000"/>
<rect x="229" y="249" width="3" height="25" fill="#ff0000"/>
<rect x="230" y="250" width="1" height="23" fill="#ff4500"/>
<rect x="234" y="228" width="1" height="50" fill="#32cd32"/>
<rect x="233" y="249" width="3" height="27" fill="#32cd32"/>
<rect x="238" y="274" width="1" height="8" fill="#32cd32"/>
<rect x="237" y="275" width="3" height="5" fill="#32cd32"/>
<rect x="242" y="275" width="1" height="41" fill="#32cd32"/>
<rect x="241" y="281" width="3" height="33" fill="#32cd32"/>
<rect x="246" y="299" width="1" height="53" fill="#32cd32"/>
<rect x="245" y="313" width="3" height="37" fill="#32cd32"/>
<rect x="250" y="331" width="1" height="35" fill="#ff0000"/>
<rect x="249" y="337" width="3" height="12" fill="#ff0000"/>
<rect x="250" y="338" width="1" height="10" fill="#ff4500"/>
<rect x="254" y="325" width="1" height="33" fill="#32cd32"/>
<rect x="253" y="337" width="3" height="18" fill="#32cd32"/>
<rect x="258" y="319" width="1" height="39" fill="#ff0000"/>
<rect x="257" y="347" width="3" height="8" fill="#ff0000"/>
<rect x="258" y="348" width="1" height="6" fill="#ff4500"/>
<rect x="262" y="344" width="1" height="9" fill="#32cd32"/>
<rect x="261" y="348" width="3" height="1" fill="#32cd32"/>
<rect x="266" y="347" width="1" height="40" fill="#32cd32"/>
<rect x="265" y="348" width="3" height="30" fill="#32cd32"/>
<rect x="270" y="334" width="1" height="53" fill="#ff0000"/>
<rect x="269" y="347" width="3" height="31" fill="#ff0000"/>
<rect x="270" y="348" width="1" height="29" fill="#ff4500"/>
<rect x="274" y="298" width="1" height="52" fill="#ff0000"/>
<rect x="273" y="305" width="3" height="42" fill="#ff0000"/>
<rect x="274" y="306" width="1" height="40" fill="#ff4500"/>
<rect x="278" y="258" width="1" height="77" fill="#ff0000"/>
<rect x="277" y="259" width="3" height="46" fill="#ff0000"/>
<rect x="278" y="260" width="1" height="44" fill="#ff4500"/>
<rect x="282" y="258" width="1" height="54" fill="#32cd32"/>
<rect x="281" y="260" width="3" height="26" fill="#32cd32"/>
<rect x="286" y="271" width="1" height="22" fill="#ff0000"/>
<rect x="285" y="274" width="3" height="12" fill="#ff0000"/>
<rect x="286" y="275" width="1" height="10" fill="#ff4500"/>
<rect x="290" y="250" width="1" height="50" fill="#ff0000"/>
<rect x="289" y="252" width="3" height="44" fill="#ff0000"/>
<rect x="290" y="253" width="1" height="42" fill="#ff4500"/>
<rect x="294" y="251" width="1" height="43" fill="#32cd32"/>
<rect x="293" y="252" width="3" height="23" fill="#32cd32"/>
<rect x="298" y="263" width="1" height="49" fill="#32cd32"/>
<rect x="297" y="274" width="3" height="15" fill="#32cd32"/>
<rect x="302" y="275" width="1" height="33" fill="#ff0000"/>
<rect x="301" y="275" width="3" height="14" fill="#ff0000"/>
<rect x="302" y="276" width="1" height="12" fill="#ff4500"/>
<rect x="306" y="192" width="1" height="87" fill="#ff0000"/>
<rect x="305" y="246" width="3" height="31" fill="#ff0000"/>
<rect x="306" y="247" width="1" height="29" fill="#ff4500"/>
<rect x="310" y="225" width="1" height="23" fill="#ff0000"/>
<rect x="309" y="231" width="3" height="16" fill="#ff0000"/>
<rect x="310" y="232" width="1" height="14" fill="#ff4500"/>
<rect x="314" y="246" width="1" height="25" fill="#32cd32"/>
<rect x="313" y="256" width="3" height="10" fill="#32cd32"/>
<rect x="318" y="236" width="1" height="37" fill="#ff0000"/>
<rect x="317" y="248" width="3" height="18" fill="#ff0000"/>
<rect x="318" y="249" width="1" height="16" fill="#ff4500"/>
<rect x="322" y="245" width="1" height="38" fill="#32cd32"/>
<rect x="321" y="247" width="3" height="13" fill="#32cd32"/>
<rect x="326" y="241" width="1" height="24" fill="#ff0000"/>
<rect x="325" y="252" width="3" height="8" fill="#ff0000"/>
<rect x="326" y="253" width="1" height="6" fill="#ff4500"/>
<rect x="330" y="170" width="1" height="86" fill="#ff0000"/>
<rect x="329" y="171" width="3" height="82" fill="#ff0000"/>
<rect x="330" y="172" width="1" height="80" fill="#ff4500"/>
<rect x="334" y="154" width="1" height="28" fill="#32cd32"/>
<rect x="333" y="172" width="3" height="9" fill="#32cd32"/>
<rect x="338" y="118" width="1" height="78" fill="#ff0000"/>
<rect x="337" y="120" width="3" height="72" fill="#ff0000"/>
<rect x="338" y="121" width="1" height="70" fill="#ff4500"/>
<rect x="342" y="93" width="1" height="94" fill="#32cd32"/>
<rect x="341" y="121" width="3" height="43" fill="#32cd32"/>
<rect x="346" y="155" width="1" height="47" fill="#32cd32"/>
<rect x="345" y="163" width="3" height="23" fill="#32cd32"/>
<rect x="350" y="179" width="1" height="58" fill="#32cd32"/>
<rect x="349" y="185" width="3" height="43" fill="#32cd32"/>
<rect x="354" y="181" width="1" height="70" fill="#ff0000"/>
<rect x="353" y="203" width="3" height="25" fill="#ff0000"/>
<rect x="354" y="204" width="1" height="23" fill="#ff4500"/>
<rect x="358" y="200" width="1" height="18" fill="#32cd32"/>
<rect x="357" y="203" width="3" height="5" fill="#32cd32"/>
<rect x="362" y="177" width="1" height="41" fill="#ff0000"/>
<rect x="361" y="204" width="3" height="4" fill="#ff0000"/>
<rect x="362" y="205" width="1" height="2" fill="#ff4500"/>
<rect x="366" y="196" width="1" height="24" fill="#32cd32"/>
<rect x="365" y="204" width="3" height="2" fill="#32cd32"/>
<rect x="370" y="188" width="1" height="22" fill="#ff0000"/>
<rect x="369" y="190" width="3" height="15" fill="#ff0000"/>
<rect x="370" y="191" width="1" height="13" fill="#ff4500"/>
<rect x="374" y="186" width="1" height="49" fill="#32cd32"/>
<rect x="373" y="190" width="3" height="9" fill="#32cd32"/>
<rect x="378" y="166" width="1" height="38" fill="#ff0000"/>
<rect x="377" y="186" width="3" height="14" fill="#ff0000"/>
<rect x="378" y="187" width="1" height="12" fill="#ff4500"/>
<rect x="382" y="185" width="1" height="11" fill="#32cd32"/>
<rect x="381" y="186" width="3" height="8" fill="#32cd32"/>
<rect x="386" y="177" width="1" height="27" fill="#32cd32"/>
<rect x="385" y="181" width="3" height="20" fill="#32cd32"/>
<rect x="390" y="176" width="1" height="26" fill="#ff0000"/>
<rect x="389" y="182" width="3" height="19" fill="#ff0000"/>
<rect x="390" y="183" width="1" height="17" fill="#ff4500"/>
<rect x="394" y="154" width="1" height="33" fill="#ff0000"/>
<rect x="393" y="161" width="3" height="21" fill="#ff0000"/>
<rect x="394" y="162" width="1" height="19" fill="#ff4500"/>
<rect x="398" y="114" width="1" height="53" fill="#ff0000"/>
<rect x="397" y="116" width="3" height="47" fill="#ff0000"/>
<rect x="398" y="117" width="1" height="45" fill="#ff4500"/>
<rect x="402" y="110" width="1" height="29" fill="#32cd32"/>
<rect x="401" y="116" width="3" height="16" fill="#32cd32"/>
<rect x="406" y="124" width="1" height="10" fill="#32cd32"/>
<rect x="405" y="131" width="3" height="1" fill="#32cd32"/>
<rect x="410" y="55" width="1" height="79" fill="#ff0000"/>
<rect x="409" y="73" width="3" height="56" fill="#ff0000"/>
<rect x="410" y="74" width="1" height="54" fill="#ff4500"/>
<rect x="414" y="55" width="1" height="29" fill="#ff0000"/>
<rect x="413" y="72" width="3" height="2" fill="#ff0000"/>
<rect x="418" y="65" width="1" height="42" fill="#32cd32"/>
<rect x="417" y="71" width="3" height="21" fill="#32cd32"/>
<rect x="422" y="47" width="1" height="55" fill="#ff0000"/>
<rect x="421" y="72" width="3" height="20" fill="#ff0000"/>
<rect x="422" y="73" width="1" height="18" fill="#ff4500"/>
<rect x="426" y="66" width="1" height="13" fill="#32cd32"/>
<rect x="425" y="72" width="3" height="5" fill="#32cd32"/>
<rect x="430" y="67" width="1" height="10" fill="#32cd32"/>
<rect x="429" y="69" width="3" height="7" fill="#32cd32"/>
<rect x="434" y="55" width="1" height="53" fill="#32cd32"/>
<rect x="433" y="75" width="3" height="29" fill="#32cd32"/>
<rect x="438" y="89" width="1" height="46" fill="#32cd32"/>
<rect x="437" y="104" width="3" height="30" fill="#32cd32"/>
<rect x="442" y="110" width="1" height="28" fill="#ff0000"/>
<rect x="441" y="122" width="3" height="11" fill="#ff0000"/>
<rect x="442" y="123" width="1" height="9" fill="#ff4500"/>
<rect x="446" y="93" width="1" height="36" fill="#ff0000"/>
<rect x="445" y="98" width="3" height="24" fill="#ff0000"/>
<rect x="446" y="99" width="1" height="22" fill="#ff4500"/>
<rect x="450" y="79" width="1" height="37" fill="#32cd32"/>
<rect x="449" y="98" width="3" height="6" fill="#32cd32"/>
<rect x="454" y="96" width="1" height="8" fill="#ff0000"/>
<rect x="453" y="99" width="3" height="5" fill="#ff0000"/>
<rect x="454" y="100" width="1" height="3" fill="#ff4500"/>
<rect x="458" y="87" width="1" height="37" fill="#32cd32"/>
<rect x="457" y="97" width="3" height="19" fill="#32cd32"/>
<rect x="462" y="100" width="1" height="28" fill="#32cd32"/>
<rect x="461" y="115" width="3" height="9" fill="#32cd32"/>
<rect x="466" y="120" width="1" height="41" fill="#32cd32"/>
<rect x="465" y="123" width="3" height="35" fill="#32cd32"/>
<rect x="470" y="126" width="1" height="40" fill="#32cd32"/>
<rect x="469" y="157" width="3" height="1" fill="#32cd32"/>
<rect x="474" y="140" width="1" height="30" fill="#32cd32"/>
<rect x="473" y="157" width="3" height="5" fill="#32cd32"/>
<rect x="478" y="152" width="1" height="12" fill="#ff0000"/>
<rect x="477" y="157" width="3" height="6" fill="#ff0000"/>
<rect x="478" y="158" width="1" height="4" fill="#ff4500"/>
<rect x="482" y="144" width="1" height="58" fill="#32cd32"/>
<rect x="481" y="155" width="3" height="32" fill="#32cd32"/>
<rect x="486" y="185" width="1" height="43" fill="#32cd32"/>
<rect x="485" y="187" width="3" height="20" fill="#32cd32"/>
<rect x="490" y="199" width="1" height="28" fill="#32cd32"/>
<rect x="489" y="207" width="3" height="20" fill="#32cd32"/>
<rect x="494" y="219" width="1" height="24" fill="#ff0000"/>
<rect x="493" y="223" width="3" height="4" fill="#ff0000"/>
<rect x="494" y="224" width="1" height="2" fill="#ff4500"/>
<rect x="498" y="207" width="1" height="27" fill="#ff0000"/>
<rect x="497" y="223" width="3" height="1" fill="#ff0000"/>
<rect x="502" y="220" width="1" height="10" fill="#32cd32"/>
<rect x="501" y="223" width="3" height="7" fill="#32cd32"/>
<rect x="506" y="222" width="1" height="31" fill="#32cd32"/>
<rect x="505" y="226" width="3" height="26" fill="#32cd32"/>
<rect x="510" y="232" width="1" height="29" fill="#ff0000"/>
<rect x="509" y="245" width="3" height="7" fill="#ff0000"/>
<rect x="510" y="246" width="1" height="5" fill="#ff4500"/>
<rect x="514" y="229" width="1" height="28" fill="#32cd32"/>
<rect x="513" y="245" width="3" height="9" fill="#32cd32"/>
<rect x="518" y="246" width="1" height="31" fill="#32cd32"/>
<rect x="517" y="253" width="3" height="14" fill="#32cd32"/>
<rect x="522" y="255" width="1" height="22" fill="#ff0000"/>
<rect x="521" y="262" width="3" height="5" fill="#ff0000"/>
<rect x="522" y="263" width="1" height="3" fill="#ff4500"/>
<rect x="526" y="254" width="1" height="12" fill="#ff0000"/>
<rect x="525" y="255" width="3" height="8" fill="#ff0000"/>
<rect x="526" y="256" width="1" height="6" fill="#ff4500"/>
<rect x="530" y="237" width="1" height="25" fill="#32cd32"/>
<rect x="529" y="255" width="3" height="2" fill="#32cd32"/>
<rect x="534" y="222" width="1" height="41" fill="#ff0000"/>
<rect x="533" y="230" width="3" height="27" fill="#ff0000"/>
<rect x="534" y="231" width="1" height="25" fill="#ff4500"/>
<rect x="538" y="219" width="1" height="28" fill="#32cd32"/>
<rect x="537" y="230" width="3" height="5" fill="#32cd32"/>
<rect x="542" y="224" width="1" height="46" fill="#32cd32"/>
<rect x="541" y="234" width="3" height="34" fill="#32cd32"/>
<rect x="546" y="264" width="1" height="93" fill="#32cd32"/>
<rect x="545" y="267" width="3" height="90" fill="#32cd32"/>
<rect x="550" y="343" width="1" height="17" fill="#ff0000"/>
<rect x="549" y="354" width="3" height="4" fill="#ff0000"/>
<rect x="550" y="355" width="1" height="2" fill="#ff4500"/>
<rect x="554" y="334" width="1" height="47" fill="#32cd32"/>
<rect x="553" y="359" width="3" height="11" fill="#32cd32"/>
<rect x="558" y="329" width="1" height="42" fill="#ff0000"/>
<rect x="557" y="336" width="3" height="35" fill="#ff0000"/>
<rect x="558" y="337" width="1" height="33" fill="#ff4500"/>
<rect x="562" y="279" width="1" height="65" fill="#ff0000"/>
<rect x="561" y="281" width="3" height="56" fill="#ff0000"/>
<rect x="562" y="282" width="1" height="54" fill="#ff4500"/>
<rect x="566" y="276" width="1" height="30" fill="#32cd32"/>
<rect x="565" y="281" width="3" height="13" fill="#32cd32"/>
<rect x="570" y="293" width="1" height="38" fill="#32cd32"/>
<rect x="569" y="293" width="3" height="23" fill="#32cd32"/>
<rect x="574" y="312" width="1" height="7" fill="#32cd32"/>
<rect x="573" y="315" width="3" height="3" fill="#32cd32"/>
<rect x="578" y="298" width="1" height="22" fill="#ff0000"/>
<rect x="577" y="308" width="3" height="8" fill="#ff0000"/>
<rect x="578" y="309" width="1" height="6" fill="#ff4500"/>
<rect x="582" y="306" width="1" height="49" fill="#32cd32"/>
<rect x="581" y="308" width="3" height="35" fill="#32cd32"/>
<rect x="586" y="317" width="1" height="39" fill="#ff0000"/>
<rect x="585" y="334" width="3" height="9" fill="#ff0000"/>
<rect x="586" y="335" width="1" height="7" fill="#ff4500"/>
<rect x="590" y="311" width="1" height="33" fill="#ff0000"/>
<rect x="589" y="327" width="3" height="8" fill="#ff0000"/>
<rect x="590" y="328" width="1" height="6" fill="#ff4500"/>
<rect x="594" y="315" width="1" height="24" fill="#ff0000"/>
<rect x="593" y="315" width="3" height="12" fill="#ff0000"/>
<rect x="594" y="316" width="1" height="10" fill="#ff4500"/>
<rect x="598" y="312" width="1" height="10" fill="#32cd32"/>
<rect x="597" y="315" width="3" height="7" fill="#32cd32"/>
<rect x="602" y="313" width="1" height="53" fill="#32cd32"/>
<rect x="601" y="323" width="3" height="38" fill="#32cd32"/>
<rect x="606" y="359" width="1" height="44" fill="#32cd32"/>
<rect x="605" y="360" width="3" height="13" fill="#32cd32"/>
<rect x="610" y="364" width="1" height="67" fill="#32cd32"/>
<rect x="609" y="373" width="3" height="42" fill="#32cd32"/>
<rect x="614" y="401" width="1" height="45" fill="#32cd32"/>
<rect x="613" y="414" width="3" height="16" fill="#32cd32"/>
<rect x="618" y="421" width="1" height="42" fill="#32cd32"/>
<rect x="617" y="429" width="3" height="22" fill="#32cd32"/>
<rect x="622" y="448" width="1" height="14" fill="#32cd32"/>
<rect x="621" y="449" width="3" height="11" fill="#32cd32"/>
<rect x="626" y="432" width="1" height="43" fill="#32cd32"/>
<rect x="625" y="440" width="3" height="1" fill="#32cd32"/>
<rect x="630" y="414" width="1" height="46" fill="#ff0000"/>
<rect x="629" y="419" width="3" height="23" fill="#ff0000"/>
<rect x="630" y="420" width="1" height="21" fill="#ff4500"/>
<rect x="634" y="404" width="1" height="26" fill="#32cd32"/>
<rect x="633" y="419" width="3" height="8" fill="#32cd32"/>
<rect x="638" y="387" width="1" height="42" fill="#ff0000"/>
<rect x="637" y="388" width="3" height="39" fill="#ff0000"/>
<rect x="638" y="389" width="1" height="37" fill="#ff4500"/>
<rect x="642" y="367" width="1" height="48" fill="#32cd32"/>
<rect x="641" y="389" width="3" height="20" fill="#32cd32"/>
<rect x="646" y="402" width="1" height="8" fill="#ff0000"/>
<rect x="645" y="405" width="3" height="4" fill="#ff0000"/>
<rect x="646" y="406" width="1" height="2" fill="#ff4500"/>
<rect x="650" y="388" width="1" height="23" fill="#32cd32"/>
<rect x="649" y="401" width="3" height="5" fill="#32cd32"/>
<rect x="654" y="385" width="1" height="31" fill="#ff0000"/>
<rect x="653" y="388" width="3" height="18" fill="#ff0000"/>
<rect x="654" y="389" width="1" height="16" fill="#ff4500"/>
<rect x="658" y="382" width="1" height="39" fill="#32cd32"/>
<rect x="657" y="388" width="3" height="23" fill="#32cd32"/>
<rect x="662" y="397" width="1" height="31" fill="#ff0000"/>
<rect x="661" y="407" width="3" height="4" fill="#ff0000"/>
<rect x="662" y="408" width="1" height="2" fill="#ff4500"/>
<rect x="666" y="387" width="1" height="38" fill="#ff0000"/>
<rect x="665" y="389" width="3" height="19" fill="#ff0000"/>
<rect x="666" y="390" width="1" height="17" fill="#ff4500"/>
<rect x="670" y="388" width="1" height="10" fill="#32cd32"/>
<rect x="669" y="389" width="3" height="8" fill="#32cd32"/>
<rect x="674" y="352" width="1" height="45" fill="#ff0000"/>
<rect x="673" y="374" width="3" height="21" fill="#ff0000"/>
<rect x="674" y="375" width="1" height="19" fill="#ff4500"/>
<rect x="678" y="368" width="1" height="20" fill="#ff0000"/>
<rect x="677" y="370" width="3" height="4" fill="#ff0000"/>
<rect x="678" y="371" width="1" height="2" fill="#ff4500"/>
<rect x="682" y="368" width="1" height="32" fill="#32cd32"/>
<rect x="681" y="370" width="3" height="28" fill="#32cd32"/>
<rect x="686" y="281" width="1" height="126" fill="#ff0000"/>
<rect x="685" y="283" width="3" height="116" fill="#ff0000"/>
<rect x="686" y="284" width="1" height="114" fill="#ff4500"/>
<rect x="690" y="269" width="1" height="45" fill="#ff0000"/>
<rect x="689" y="281" width="3" height="3" fill="#ff0000"/>
<rect x="690" y="282" width="1" height="1" fill="#ff4500"/>
<rect x="694" y="278" width="1" height="12" fill="#32cd32"/>
<rect x="693" y="281" width="3" height="3" fill="#32cd32"/>
<rect x="698" y="243" width="1" height="52" fill="#ff0000"/>
<rect x="697" y="255" width="3" height="34" fill="#ff0000"/>
<rect x="698" y="256" width="1" height="32" fill="#ff4500"/>
<rect x="702" y="231" width="1" height="44" fill="#ff0000"/>
<rect x="701" y="234" width="3" height="22" fill="#ff0000"/>
<rect x="702" y="235" width="1" height="20" fill="#ff4500"/>
<rect x="706" y="216" width="1" height="42" fill="#32cd32"/>
<rect x="705" y="234" width="3" height="18" fill="#32cd32"/>
<rect x="710" y="232" width="1" height="37" fill="#32cd32"/>
<rect x="709" y="252" width="3" height="2" fill="#32cd32"/>
<rect x="714" y="251" width="1" height="42" fill="#32cd32"/>
<rect x="713" y="254" width="3" height="25" fill="#32cd32"/>
<rect x="718" y="273" width="1" height="8" fill="#ff0000"/>
<rect x="717" y="276" width="3" height="1" fill="#ff0000"/>
<rect x="722" y="262" width="1" height="22" fill="#32cd32"/>
<rect x="721" y="281" width="3" height="3" fill="#32cd32"/>
<rect x="726" y="257" width="1" height="29" fill="#ff0000"/>
<rect x="725" y="268" width="3" height="15" fill="#ff0000"/>
<rect x="726" y="269" width="1" height="13" fill="#ff4500"/>
<rect x="730" y="263" width="1" height="17" fill="#ff0000"/>
<rect x="729" y="268" width="3" height="1" fill="#ff0000"/>
<rect x="734" y="251" width="1" height="19" fill="#ff0000"/>
<rect x="733" y="255" width="3" height="10" fill="#ff0000"/>
<rect x="734" y="256" width="1" height="8" fill="#ff4500"/>
<rect x="738" y="223" width="1" height="39" fill="#ff0000"/>
<rect x="737" y="249" width="3" height="7" fill="#ff0000"/>
<rect x="738" y="250" width="1" height="5" fill="#ff4500"/>
<rect x="742" y="245" width="1" height="17" fill="#32cd32"/>
<rect x="741" y="249" width="3" height="9" fill="#32cd32"/>
<rect x="746" y="251" width="1" height="30" fill="#32cd32"/>
<rect x="745" y="258" width="3" height="16" fill="#32cd32"/>
<rect x="750" y="234" width="1" height="49" fill="#ff0000"/>
<rect x="749" y="239" width="3" height="35" fill="#ff0000"/>
<rect x="750" y="240" width="1" height="33" fill="#ff4500"/>
<rect x="754" y="232" width="1" height="39" fill="#32cd32"/>
<rect x="753" y="238" width="3" height="17" fill="#32cd32"/>
<rect x="758" y="206" width="1" height="57" fill="#ff0000"/>
<rect x="757" y="212" width="3" height="43" fill="#ff0000"/>
<rect x="758" y="213" width="1" height="41" fill="#ff4500"/>
<rect x="762" y="206" width="1" height="35" fill="#32cd32"/>
<rect x="761" y="212" width="3" height="20" fill="#32cd32"/>
<rect x="766" y="229" width="1" height="12" fill="#32cd32"/>
<rect x="765" y="232" width="3" height="8" fill="#32cd32"/>
<rect x="770" y="236" width="1" height="19" fill="#32cd32"/>
<rect x="769" y="245" width="3" height="4" fill="#32cd32"/>
<rect x="774" y="238" width="1" height="30" fill="#32cd32"/>
<rect x="773" y="248" width="3" height="17" fill="#32cd32"/>
<rect x="778" y="234" width="1" height="63" fill="#32cd32"/>
<rect x="777" y="264" width="3" height="9" fill="#32cd32"/>
<rect x="782" y="258" width="1" height="28" fill="#32cd32"/>
<rect x="781" y="272" width="3" height="4" fill="#32cd32"/>
<rect x="786" y="238" width="1" height="44" fill="#ff0000"/>
<rect x="785" y="239" width="3" height="37" fill="#ff0000"/>
<rect x="786" y="240" width="1" height="35" fill="#ff4500"/>
<rect x="790" y="239" width="1" height="18" fill="#32cd32"/>
<rect x="789" y="240" width="3" height="14" fill="#32cd32"/>
<rect x="794" y="214" width="1" height="37" fill="#ff0000"/>
<rect x="793" y="224" width="3" height="26" fill="#ff0000"/>
<rect x="794" y="225" width="1" height="24" fill="#ff4500"/>
<rect x="798" y="209" width="1" height="33" fill="#32cd32"/>
<rect x="797" y="224" width="3" height="7" fill="#32cd32"/>
<rect x="802" y="224" width="1" height="50" fill="#32cd32"/>
<rect x="801" y="231" width="3" height="40" fill="#32cd32"/>
<rect x="806" y="246" width="1" height="33" fill="#ff0000"/>
<rect x="805" y="249" width="3" height="22" fill="#ff0000"/>
<rect x="806" y="250" width="1" height="20" fill="#ff4500"/>
<rect x="810" y="230" width="1" height="33" fill="#ff0000"/>
<rect x="809" y="237" width="3" height="14" fill="#ff0000"/>
<rect x="810" y="238" width="1" height="12" fill="#ff4500"/>
<rect x="814" y="237" width="1" height="16" fill="#32cd32"/>
<rect x="813" y="237" width="3" height="15" fill="#32cd32"/>
<rect x="818" y="216" width="1" height="35" fill="#ff0000"/>
<rect x="817" y="239" width="3" height="12" fill="#ff0000"/>
<rect x="818" y="240" width="1" height="10" fill="#ff4500"/>
<rect x="822" y="159" width="1" height="90" fill="#ff0000"/>
<rect x="821" y="163" width="3" height="77" fill="#ff0000"/>
<rect x="822" y="164" width="1" height="75" fill="#ff4500"/>
<rect x="826" y="153" width="1" height="62" fill="#32cd32"/>
<rect x="825" y="164" width="3" height="39" fill="#32cd32"/>
<rect x="830" y="186" width="1" height="101" fill="#32cd32"/>
<rect x="829" y="202" width="3" height="80" fill="#32cd32"/>
<rect x="834" y="255" width="1" height="41" fill="#ff0000"/>
<rect x="833" y="272" width="3" height="10" fill="#ff0000"/>
<rect x="834" y="273" width="1" height="8" fill="#ff4500"/>
<rect x="838" y="263" width="1" height="16" fill="#ff0000"/>
<rect x="837" y="268" width="3" height="5" fill="#ff0000"/>
<rect x="838" y="269" width="1" height="3" fill="#ff4500"/>
<rect x="842" y="256" width="1" height="25" fill="#32cd32"/>
<rect x="841" y="268" width="3" height="3" fill="#32cd32"/>
<rect x="846" y="261" width="1" height="18" fill="#ff0000"/>
<rect x="845" y="267" width="3" height="4" fill="#ff0000"/>
<rect x="846" y="268" width="1" height="2" fill="#ff4500"/>
<rect x="850" y="263" width="1" height="29" fill="#32cd32"/>
<rect x="849" y="267" width="3" height="9" fill="#32cd32"/>
<rect x="854" y="268" width="1" height="22" fill="#32cd32"/>
<rect x="853" y="275" width="3" height="9" fill="#32cd32"/>
<rect x="858" y="235" width="1" height="51" fill="#ff0000"/>
<rect x="857" y="241" width="3" height="43" fill="#ff0000"/>
<rect x="858" y="242" width="1" height="41" fill="#ff4500"/>
<rect x="862" y="238" width="1" height="11" fill="#32cd32"/>
<rect x="861" y="241" width="3" height="6" fill="#32cd32"/>
<rect x="866" y="228" width="1" height="27" fill="#ff0000"/>
<rect x="865" y="234" width="3" height="6" fill="#ff0000"/>
<rect x="866" y="235" width="1" height="4" fill="#ff4500"/>
<rect x="870" y="225" width="1" height="20" fill="#ff0000"/>
<rect x="869" y="230" width="3" height="5" fill="#ff0000"/>
<rect x="870" y="231" width="1" height="3" fill="#ff4500"/>
<rect x="874" y="219" width="1" height="35" fill="#32cd32"/>
<rect x="873" y="230" width="3" height="19" fill="#32cd32"/>
<rect x="878" y="239" width="1" height="18" fill="#32cd32"/>
<rect x="877" y="248" width="3" height="1" fill="#32cd32"/>
<rect x="882" y="233" width="1" height="18" fill="#ff0000"/>
<rect x="881" y="246" width="3" height="3" fill="#ff0000"/>
<rect x="882" y="247" width="1" height="1" fill="#ff4500"/>
<rect x="886" y="245" width="1" height="7" fill="#32cd32"/>
<rect x="885" y="246" width="3" height="6" fill="#32cd32"/>
<rect x="890" y="240" width="1" height="14" fill="#32cd32"/>
<rect x="889" y="242" width="3" height="9" fill="#32cd32"/>
<rect x="894" y="215" width="1" height="42" fill="#ff0000"/>
<rect x="893" y="215" width="3" height="36" fill="#ff0000"/>
<rect x="894" y="216" width="1" height="34" fill="#ff4500"/>
<rect x="898" y="211" width="1" height="32" fill="#32cd32"/>
<rect x="897" y="215" width="3" height="18" fill="#32cd32"/>
<rect x="902" y="199" width="1" height="45" fill="#ff0000"/>
<rect x="901" y="211" width="3" height="22" fill="#ff0000"/>
<rect x="902" y="212" width="1" height="20" fill="#ff4500"/>
<rect x="906" y="188" width="1" height="26" fill="#ff0000"/>
<rect x="905" y="198" width="3" height="13" fill="#ff0000"/>
<rect x="906" y="199" width="1" height="11" fill="#ff4500"/>
<rect x="910" y="198" width="1" height="11" fill="#32cd32"/>
<rect x="909" y="198" width="3" height="11" fill="#32cd32"/>
<rect x="914" y="204" width="1" height="36" fill="#32cd32"/>
<rect x="913" y="204" width="3" height="35" fill="#32cd32"/>
<rect x="918" y="232" width="1" height="38" fill="#32cd32"/>
<rect x="917" y="238" width="3" height="22" fill="#32cd32"/>
<rect x="922" y="251" width="1" height="15" fill="#32cd32"/>
<rect x="921" y="259" width="3" height="5" fill="#32cd32"/>
<rect x="2" y="72" width="1" height="14" fill="#ff0000"/>
<rect x="2" y="50" width="1" height="2" fill="#fff"/>
<rect x="2" y="51" width="1" height="1" fill="#ff0000"/>
<rect x="2" y="53" width="1" height="1" fill="#0000ff"/>
</g>
<g shape-rendering="crispEdges">
<rect x="1" y="523" width="3" height="37" fill="#c0c0c0"/>
<rect x="5" y="523" width="3" height="34" fill="#c0c0c0"/>
<rect x="9" y="523" width="3" height="34" fill="#c0c0c0"/>
<rect x="13" y="523" width="3" height="34" fill="#c0c0c0"/>
<rect x="17" y="523" width="3" height="35" fill="#c0c0c0"/>
<rect x="21" y="523" width="3" height="35" fill="#c0c0c0"/>
<rect x="25" y="523" width="3" height="40" fill="#c0c0c0"/>
<rect x="29" y="523" width="3" height="41" fill="#c0c0c0"/>
<rect x="33" y="523" width="3" height="41" fill="#c0c0c0"/>
<rect x="37" y="523" width="3" height="40" fill="#c0c0c0"/>
<rect x="41" y="523" width="3" height="37" fill="#c0c0c0"/>
<rect x="45" y="523" width="3" height="34" fill="#c0c0c0"/>
<rect x="49" y="523" width="3" height="31" fill="#c0c0c0"/>
<rect x="53" y="523" width="3" height="30" fill="#c0c0c0"/>
<rect x="57" y="523" width="3" height="29" fill="#c0c0c0"/>
<rect x="61" y="523" width="3" height="30" fill="#c0c0c0"/>
<rect x="65" y="523" width="3" height="30" fill="#c0c0c0"/>
<rect x="69" y="523" width="3" height="28" fill="#c0c0c0"/>
<rect x="73" y="523" width="3" height="26" fill="#c0c0c0"/>
<rect x="77" y="523" width="3" height="24" fill="#c0c0c0"/>
<rect x="81" y="523" width="3" height="21" fill="#c0c0c0"/>
<rect x="85" y="523" width="3" height="20" fill="#c0c0c0"/>
<rect x="89" y="523" width="3" height="19" fill="#c0c0c0"/>
<rect x="93" y="523" width="3" height="19" fill="#c0c0c0"/>
<rect x="97" y="523" width="3" height="18" fill="#c0c0c0"/>
<rect x="101" y="523" width="3" height="17" fill="#c0c0c0"/>
<rect x="105" y="523" width="3" height="18" fill="#c0c0c0"/>
<rect x="109" y="523" width="3" height="20" fill="#c0c0c0"/>
<rect x="113" y="523" width="3" height="21" fill="#c0c0c0"/>
<rect x="117" y="523" width="3" height="21" fill="#c0c0c0"/>
<rect x="121" y="523" width="3" height="26" fill="#c0c0c0"/>
<rect x="125" y="523" width="3" height="31" fill="#c0c0c0"/>
<rect x="129" y="523" width="3" height="34" fill="#c0c0c0"/>
<rect x="133" y="523" width="3" height="33" fill="#c0c0c0"/>
<rect x="137" y="523" width="3" height="34" fill="#c0c0c0"/>
<rect x="141" y="523" width="3" height="33" fill="#c0c0c0"/>
<rect x="145" y="523" width="3" height="31" fill="#c0c0c0"/>
<rect x="149" y="523" width="3" height="31" fill="#c0c0c0"/>
<rect x="153" y="523" width="3" height="30" fill="#c0c0c0"/>
<rect x="157" y="523" width="3" height="28" fill="#c0c0c0"/>
<rect x="161" y="523" width="3" height="25" fill="#c0c0c0"/>
<rect x="165" y="523" width="3" height="22" fill="#c0c0c0"/>
<rect x="169" y="523" width="3" height="19" fill="#c0c0c0"/>
<rect x="173" y="523" width="3" height="17" fill="#c0c0c0"/>
<rect x="177" y="523" width="3" height="18" fill="#c0c0c0"/>
<rect x="181" y="523" width="3" height="17" fill="#c0c0c0"/>
<rect x="185" y="523" width="3" height="14" fill="#c0c0c0"/>
<rect x="189" y="523" width="3" height="11" fill="#c0c0c0"/>
<rect x="193" y="523" width="3" height="9" fill="#c0c0c0"/>
<rect x="197" y="523" width="3" height="10" fill="#c0c0c0"/>
<rect x="201" y="523" width="3" height="8" fill="#c0c0c0"/>
<rect x="205" y="523" width="3" height="8" fill="#c0c0c0"/>
<rect x="209" y="523" width="3" height="11" fill="#c0c0c0"/>
<rect x="213" y="523" width="3" height="14" fill="#c0c0c0"/>
<rect x="217" y="523" width="3" height="12" fill="#c0c0c0"/>
<rect x="221" y="523" width="3" height="13" fill="#c0c0c0"/>
<rect x="225" y="523" width="3" height="13" fill="#c0c0c0"/>
<rect x="229" y="523" width="3" height="11" fill="#c0c0c0"/>
<rect x="233" y="523" width="3" height="11" fill="#c0c0c0"/>
<rect x="237" y="523" width="3" height="11" fill="#c0c0c0"/>
<rect x="241" y="523" width="3" height="14" fill="#c0c0c0"/>
<rect x="245" y="523" width="3" height="17" fill="#c0c0c0"/>
<rect x="249" y="523" width="3" height="19" fill="#c0c0c0"/>
<rect x="253" y="523" width="3" height="22" fill="#c0c0c0"/>
<rect x="257" y="523" width="3" height="23" fill="#c0c0c0"/>
<rect x="261" y="523" width="3" height="24" fill="#c0c0c0"/>
<rect x="265" y="523" width="3" height="26" fill="#c0c0c0"/>
<rect x="269" y="523" width="3" height="25" fill="#c0c0c0"/>
<rect x="273" y="523" width="3" height="21" fill="#c0c0c0"/>
<rect x="277" y="523" width="3" height="17" fill="#c0c0c0"/>
<rect x="281" y="523" width="3" height="14" fill="#c0c0c0"/>
<rect x="285" y="523" width="3" height="11" fill="#c0c0c0"/>
<rect x="289" y="523" width="3" height="7" fill="#c0c0c0"/>
<rect x="293" y="523" width="3" height="5" fill="#c0c0c0"/>
<rect x="297" y="523" width="3" height="4" fill="#c0c0c0"/>
<rect x="301" y="523" width="3" height="3" fill="#c0c0c0"/>
<rect x="305" y="522" width="3" height="1" fill="#c0c0c0"/>
<rect x="309" y="519" width="3" height="4" fill="#c0c0c0"/>
<rect x="313" y="519" width="3" height="4" fill="#c0c0c0"/>
<rect x="317" y="518" width="3" height="5" fill="#c0c0c0"/>
<rect x="321" y="518" width="3" height="5" fill="#c0c0c0"/>
<rect x="325" y="517" width="3" height="6" fill="#c0c0c0"/>
<rect x="329" y="512" width="3" height="11" fill="#c0c0c0"/>
<rect x="333" y="509" width="3" height="14" fill="#c0c0c0"/>
<rect x="337" y="502" width="3" height="21" fill="#c0c0c0"/>
<rect x="341" y="500" width="3" height="23" fill="#c0c0c0"/>
<rect x="345" y="500" width="3" height="23" fill="#c0c0c0"/>
<rect x="349" y="503" width="3" height="20" fill="#c0c0c0"/>
<rect x="353" y="504" width="3" height="19" fill="#c0c0c0"/>
<rect x="357" y="505" width="3" height="18" fill="#c0c0c0"/>
<rect x="361" y="505" width="3" height="18" fill="#c0c0c0"/>
<rect x="365" y="507" width="3" height="16" fill="#c0c0c0"/>
<rect x="369" y="507" width="3" height="16" fill="#c0c0c0"/>
<rect x="373" y="508" width="3" height="15" fill="#c0c0c0"/>
<rect x="377" y="508" width="3" height="15" fill="#c0c0c0"/>
<rect x="381" y="509" width="3" height="14" fill="#c0c0c0"/>
<rect x="385" y="510" width="3" height="13" fill="#c0c0c0"/>
<rect x="389" y="510" width="3" height="13" fill="#c0c0c0"/>
<rect x="393" y="508" width="3" height="15" fill="#c0c0c0"/>
<rect x="397" y="505" width="3" height="18" fill="#c0c0c0"/>
<rect x="401" y="503" width="3" height="20" fill="#c0c0c0"/>
<rect x="405" y="502" width="3" height="21" fill="#c0c0c0"/>
<rect x="409" y="498" width="3" height="25" fill="#c0c0c0"/>
<rect x="413" y="495" width="3" height="28" fill="#c0c0c0"/>
<rect x="417" y="494" width="3" height="29" fill="#c0c0c0"/>
<rect x="421" y="493" width="3" height="30" fill="#c0c0c0"/>
<rect x="425" y="492" width="3" height="31" fill="#c0c0c0"/>
<rect x="429" y="492" width="3" height="31" fill="#c0c0c0"/>
<rect x="433" y="494" width="3" height="29" fill="#c0c0c0"/>
<rect x="437" y="498" width="3" height="25" fill="#c0c0c0"/>
<rect x="441" y="500" width="3" height="23" fill="#c0c0c0"/>
<rect x="445" y="501" width="3" height="22" fill="#c0c0c0"/>
<rect x="449" y="502" width="3" height="21" fill="#c0c0c0"/>
<rect x="453" y="503" width="3" height="20" fill="#c0c0c0"/>
<rect x="457" y="505" width="3" height="18" fill="#c0c0c0"/>
<rect x="461" y="507" width="3" height="16" fill="#c0c0c0"/>
<rect x="465" y="511" width="3" height="12" fill="#c0c0c0"/>
<rect x="469" y="514" width="3" height="9" fill="#c0c0c0"/>
<rect x="473" y="517" width="3" height="6" fill="#c0c0c0"/>
<rect x="477" y="519" width="3" height="4" fill="#c0c0c0"/>
<rect x="481" y="522" width="3" height="1" fill="#c0c0c0"/>
<rect x="485" y="523" width="3" height="5" fill="#c0c0c0"/>
<rect x="489" y="523" width="3" height="9" fill="#c0c0c0"/>
<rect x="493" y="523" width="3" height="12" fill="#c0c0c0"/>
<rect x="497" y="523" width="3" height="14" fill="#c0c0c0"/>
<rect x="501" y="523" width="3" height="16" fill="#c0c0c0"/>
<rect x="505" y="523" width="3" height="19" fill="#c0c0c0"/>
<rect x="509" y="523" width="3" height="20" fill="#c0c0c0"/>
<rect x="513" y="523" width="3" height="22" fill="#c0c0c0"/>
<rect x="517" y="523" width="3" height="23" fill="#c0c0c0"/>
<rect x="521" y="523" width="3" height="24" fill="#c0c0c0"/>
<rect x="525" y="523" width="3" height="24" fill="#c0c0c0"/>
<rect x="529" y="523" width="3" height="24" fill="#c0c0c0"/>
<rect x="533" y="523" width="3" height="22" fill="#c0c0c0"/>
<rect x="537" y="523" width="3" height="22" fill="#c0c0c0"/>
<rect x="541" y="523" width="3" height="22" fill="#c0c0c0"/>
<rect x="545" y="523" width="3" height="26" fill="#c0c0c0"/>
<rect x="549" y="523" width="3" height="30" fill="#c0c0c0"/>
<rect x="553" y="523" width="3" height="34" fill="#c0c0c0"/>
<rect x="557" y="523" width="3" height="35" fill="#c0c0c0"/>
<rect x="561" y="523" width="3" height="31" fill="#c0c0c0"/>
<rect x="565" y="523" width="3" height="28" fill="#c0c0c0"/>
<rect x="569" y="523" width="3" height="28" fill="#c0c0c0"/>
<rect x="573" y="523" width="3" height="27" fill="#c0c0c0"/>
<rect x="577" y="523" width="3" height="26" fill="#c0c0c0"/>
<rect x="581" y="523" width="3" height="27" fill="#c0c0c0"/>
<rect x="585" y="523" width="3" height="26" fill="#c0c0c0"/>
<rect x="589" y="523" width="3" height="25" fill="#c0c0c0"/>
<rect x="593" y="523" width="3" height="24" fill="#c0c0c0"/>
<rect x="597" y="523" width="3" height="24" fill="#c0c0c0"/>
<rect x="601" y="523" width="3" height="24" fill="#c0c0c0"/>
<rect x="605" y="523" width="3" height="25" fill="#c0c0c0"/>
<rect x="609" y="523" width="3" height="28" fill="#c0c0c0"/>
<rect x="613" y="523" width="3" height="31" fill="#c0c0c0"/>
<rect x="617" y="523" width="3" height="35" fill="#c0c0c0"/>
<rect x="621" y="523" width="3" height="38" fill="#c0c0c0"/>
<rect x="625" y="523" width="3" height="38" fill="#c0c0c0"/>
<rect x="629" y="523" width="3" height="37" fill="#c0c0c0"/>
<rect x="633" y="523" width="3" height="36" fill="#c0c0c0"/>
<rect x="637" y="523" width="3" height="33" fill="#c0c0c0"/>
<rect x="641" y="523" width="3" height="31" fill="#c0c0c0"/>
<rect x="645" y="523" width="3" height="29" fill="#c0c0c0"/>
<rect x="649" y="523" width="3" height="27" fill="#c0c0c0"/>
<rect x="653" y="523" width="3" height="24" fill="#c0c0c0"/>
<rect x="657" y="523" width="3" height="23" fill="#c0c0c0"/>
<rect x="661" y="523" width="3" height="22" fill="#c0c0c0"/>
<rect x="665" y="523" width="3" height="20" fill="#c0c0c0"/>
<rect x="669" y="523" width="3" height="18" fill="#c0c0c0"/>
<rect x="673" y="523" width="3" height="15" fill="#c0c0c0"/>
<rect x="677" y="523" width="3" height="13" fill="#c0c0c0"/>
<rect x="681" y="523" width="3" height="12" fill="#c0c0c0"/>
<rect x="685" y="523" width="3" height="5" fill="#c0c0c0"/>
<rect x="689" y="521" width="3" height="2" fill="#c0c0c0"/>
<rect x="693" y="516" width="3" height="7" fill="#c0c0c0"/>
<rect x="697" y="511" width="3" height="12" fill="#c0c0c0"/>
<rect x="701" y="506" width="3" height="17" fill="#c0c0c0"/>
<rect x="705" y="503" width="3" height="20" fill="#c0c0c0"/>
<rect x="709" y="501" width="3" height="22" fill="#c0c0c0"/>
<rect x="713" y="502" width="3" height="21" fill="#c0c0c0"/>
<rect x="717" y="502" width="3" height="21" fill="#c0c0c0"/>
<rect x="721" y="503" width="3" height="20" fill="#c0c0c0"/>
<rect x="725" y="503" width="3" height="20" fill="#c0c0c0"/>
<rect x="729" y="503" width="3" height="20" fill="#c0c0c0"/>
<rect x="733" y="503" width="3" height="20" fill="#c0c0c0"/>
<rect x="737" y="502" width="3" height="21" fill="#c0c0c0"/>
<rect x="741" y="502" width="3" height="21" fill="#c0c0c0"/>
<rect x="745" y="503" width="3" height="20" fill="#c0c0c0"/>
<rect x="749" y="504" width="3" height="19" fill="#c0c0c0"/>
<rect x="753" y="504" width="3" height="19" fill="#c0c0c0"/>
<rect x="757" y="504" width="3" height="19" fill="#c0c0c0"/>
<rect x="761" y="504" width="3" height="19" fill="#c0c0c0"/>
<rect x="765" y="504" width="3" height="19" fill="#c0c0c0"/>
<rect x="769" y="504" width="3" height="19" fill="#c0c0c0"/>
<rect x="773" y="507" width="3" height="16" fill="#c0c0c0"/>
<rect x="777" y="509" width="3" height="14" fill="#c0c0c0"/>
<rect x="781" y="511" width="3" height="12" fill="#c0c0c0"/>
<rect x="785" y="511" width="3" height="12" fill="#c0c0c0"/>
<rect x="789" y="512" width="3" height="11" fill="#c0c0c0"/>
<rect x="793" y="511" width="3" height="12" fill="#c0c0c0"/>
<rect x="797" y="510" width="3" height="13" fill="#c0c0c0"/>
<rect x="801" y="513" width="3" height="10" fill="#c0c0c0"/>
<rect x="805" y="513" width="3" height="10" fill="#c0c0c0"/>
<rect x="809" y="513" width="3" height="10" fill="#c0c0c0"/>
<rect x="813" y="514" width="3" height="9" fill="#c0c0c0"/>
<rect x="817" y="514" width="3" height="9" fill="#c0c0c0"/>
<rect x="821" y="510" width="3" height="13" fill="#c0c0c0"/>
<rect x="825" y="509" width="3" height="14" fill="#c0c0c0"/>
<rect x="829" y="512" width="3" height="11" fill="#c0c0c0"/>
<rect x="833" y="516" width="3" height="7" fill="#c0c0c0"/>
<rect x="837" y="518" width="3" height="5" fill="#c0c0c0"/>
<rect x="841" y="520" width="3" height="3" fill="#c0c0c0"/>
<rect x="845" y="521" width="3" height="2" fill="#c0c0c0"/>
<rect x="849" y="522" width="3" height="1" fill="#c0c0c0"/>
<rect x="853" y="523" width="3" height="2" fill="#c0c0c0"/>
<rect x="857" y="523" width="3" height="1" fill="#c0c0c0"/>
<rect x="861" y="522" width="3" height="1" fill="#c0c0c0"/>
<rect x="865" y="521" width="3" height="2" fill="#c0c0c0"/>
<rect x="869" y="520" width="3" height="3" fill="#c0c0c0"/>
<rect x="873" y="520" width="3" height="3" fill="#c0c0c0"/>
<rect x="877" y="520" width="3" height="3" fill="#c0c0c0"/>
<rect x="881" y="520" width="3" height="3" fill="#c0c0c0"/>
<rect x="885" y="521" width="3" height="2" fill="#c0c0c0"/>
<rect x="889" y="521" width="3" height="2" fill="#c0c0c0"/>
<rect x="893" y="519" width="3" height="4" fill="#c0c0c0"/>
<rect x="897" y="519" width="3" height="4" fill="#c0c0c0"/>
<rect x="901" y="517" width="3" height="6" fill="#c0c0c0"/>
<rect x="905" y="515" width="3" height="8" fill="#c0c0c0"/>
<rect x="909" y="514" width="3" height="9" fill="#c0c0c0"/>
<rect x="913" y="516" width="3" height="7" fill="#c0c0c0"/>
<rect x="917" y="518" width="3" height="5" fill="#c0c0c0"/>
<rect x="921" y="520" width="3" height="3" fill="#c0c0c0"/>
</g>
<path d="M440 495.5h7M434 496.5h6M447 496.5h7M430 497.5h4M454 497.5h3M428 498.5h2M457 498.5h3M425 499.5h3M460 499.5h3M423 500.5h2M463 500.5h2M421 501.5h2M465 501.5h2M418 502.5h3M467 502.5h1M735 502.5h24M417 503.5h1M468 503.5h1M729 503.5h6M759 503.5h18M363 504.5h12M414 504.5h3M469 504.5h2M726 504.5h3M777 504.5h6M358 505.5h5M375 505.5h4M411 505.5h3M471 505.5h1M724 505.5h2M783 505.5h4M354 506.5h4M379 506.5h5M407 506.5h4M472 506.5h3M723 506.5h1M787 506.5h4M352 507.5h2M384 507.5h5M403 507.5h4M475 507.5h1M722 507.5h1M791 507.5h4M350 508.5h2M389 508.5h14M476 508.5h3M720 508.5h2M795 508.5h4M348 509.5h2M479 509.5h1M719 509.5h1M799 509.5h3M346 510.5h2M480 510.5h2M717 510.5h2M802 510.5h2M344 511.5h2M482 511.5h1M716 511.5h1M804 511.5h5M342 512.5h2M483 512.5h2M715 512.5h1M809 512.5h27M341 513.5h1M485 513.5h1M714 513.5h1M836 513.5h6M339 514.5h2M486 514.5h2M713 514.5h1M842 514.5h4M338 515.5h1M488 515.5h1M712 515.5h1M846 515.5h4M336 516.5h2M489 516.5h1M711 516.5h1M850 516.5h4M335 517.5h1M490 517.5h1M710 517.5h1M854 517.5h4M333 518.5h2M491 518.5h2M710 518.5h1M858 518.5h2M907 518.5h16M331 519.5h2M493 519.5h1M709 519.5h1M860 519.5h2M905 519.5h2M328 520.5h3M494 520.5h1M708 520.5h1M862 520.5h2M892 520.5h13M325 521.5h3M495 521.5h1M707 521.5h1M864 521.5h28M323 522.5h2M496 522.5h2M706 522.5h1M320 523.5h3M498 523.5h1M705 523.5h1M318 524.5h2M499 524.5h1M704 524.5h1M316 525.5h2M500 525.5h1M703 525.5h1M314 526.5h2M501 526.5h2M702 526.5h1M313 527.5h1M503 527.5h1M701 527.5h1M311 528.5h2M504 528.5h1M699 528.5h2M310 529.5h1M505 529.5h1M698 529.5h1M309 530.5h1M506 530.5h2M697 530.5h1M307 531.5h2M508 531.5h1M696 531.5h1M306 532.5h1M509 532.5h1M695 532.5h1M213 533.5h25M304 533.5h2M510 533.5h2M694 533.5h1M206 534.5h7M238 534.5h7M303 534.5h1M512 534.5h2M692 534.5h2M203 535.5h3M245 535.5h4M302 535.5h1M514 535.5h1M691 535.5h1M200 536.5h3M249 536.5h4M300 536.5h2M515 536.5h2M690 536.5h1M198 537.5h2M253 537.5h3M299 537.5h1M517 537.5h1M689 537.5h1M196 538.5h2M256 538.5h3M297 538.5h2M518 538.5h2M687 538.5h2M194 539.5h2M259 539.5h3M295 539.5h2M520 539.5h2M686 539.5h1M192 540.5h2M262 540.5h3M291 540.5h4M522 540.5h2M683 540.5h3M109 541.5h13M189 541.5h3M265 541.5h3M288 541.5h3M524 541.5h3M682 541.5h1M105 542.5h4M122 542.5h2M187 542.5h2M268 542.5h5M284 542.5h4M527 542.5h3M679 542.5h3M102 543.5h3M124 543.5h3M184 543.5h3M273 543.5h3M281 543.5h3M530 543.5h7M678 543.5h1M99 544.5h3M127 544.5h2M182 544.5h2M276 544.5h5M537 544.5h8M675 544.5h3M96 545.5h3M129 545.5h3M179 545.5h3M545 545.5h5M674 545.5h1M92 546.5h4M132 546.5h2M177 546.5h2M550 546.5h4M671 546.5h3M89 547.5h3M134 547.5h3M175 547.5h2M554 547.5h4M604 547.5h5M670 547.5h1M85 548.5h4M137 548.5h2M172 548.5h3M558 548.5h3M596 548.5h8M609 548.5h7M667 548.5h3M82 549.5h3M139 549.5h3M171 549.5h1M561 549.5h4M591 549.5h5M616 549.5h4M665 549.5h2M79 550.5h3M142 550.5h4M168 550.5h3M565 550.5h5M586 550.5h5M620 550.5h2M663 550.5h2M76 551.5h3M146 551.5h3M167 551.5h1M570 551.5h5M582 551.5h4M622 551.5h3M661 551.5h2M72 552.5h4M149 552.5h4M164 552.5h3M575 552.5h7M625 552.5h2M659 552.5h2M69 553.5h3M153 553.5h3M160 553.5h4M627 553.5h3M657 553.5h2M67 554.5h2M156 554.5h4M630 554.5h4M655 554.5h2M64 555.5h3M634 555.5h3M653 555.5h2M62 556.5h2M637 556.5h16M59 557.5h3M55 558.5h4M26 559.5h9M52 559.5h3M19 560.5h7M35 560.5h17M16 561.5h3M12 562.5h4M10 563.5h2M7 564.5h3M6 565.5h1M3 566.5h3M2 567.5h1" fill="none" stroke="#ff0000" stroke-width="1" shape-rendering="crispEdges"/>
<line x1="2" y1="600.5" x2="1164" y2="600.5" stroke="#c0c0c0" stroke-width="1" stroke-dasharray="3,3" shape-rendering="crispEdges"/>
<line x1="2" y1="634.5" x2="1164" y2="634.5" stroke="#c0c0c0" stroke-width="1" stroke-dasharray="3,3" shape-rendering="crispEdges"/>
<path d="M410 600.5h5M701 600.5h2M338 601.5h1M409 601.5h1M415 601.5h1M700 601.5h1M703 601.5h1M337 602.5h1M339 602.5h1M409 602.5h1M416 602.5h1M421 602.5h4M698 602.5h2M704 602.5h1M336 603.5h1M339 603.5h1M398 603.5h1M408 603.5h1M417 603.5h1M420 603.5h1M425 603.5h6M697 603.5h1M705 603.5h1M822 603.5h1M336 604.5h1M340 604.5h1M397 604.5h1M399 604.5h2M407 604.5h1M418 604.5h2M431 604.5h1M695 604.5h2M706 604.5h5M758 604.5h1M822 604.5h1M330 605.5h2M335 605.5h1M341 605.5h1M396 605.5h1M401 605.5h2M407 605.5h1M431 605.5h1M686 605.5h9M711 605.5h1M737 605.5h2M757 605.5h1M759 605.5h1M821 605.5h1M823 605.5h1M330 606.5h1M332 606.5h3M341 606.5h1M396 606.5h1M403 606.5h4M432 606.5h1M686 606.5h1M712 606.5h1M733 606.5h4M739 606.5h3M750 606.5h1M756 606.5h1M760 606.5h1M821 606.5h1M824 606.5h1M329 607.5h1M342 607.5h1M395 607.5h1M433 607.5h1M686 607.5h1M712 607.5h1M732 607.5h1M742 607.5h1M749 607.5h1M751 607.5h1M756 607.5h1M761 607.5h1M820 607.5h1M824 607.5h1M329 608.5h1M343 608.5h2M394 608.5h1M433 608.5h1M685 608.5h1M713 608.5h1M725 608.5h7M743 608.5h1M748 608.5h1M752 608.5h2M755 608.5h1M762 608.5h2M820 608.5h1M824 608.5h1M903 608.5h5M328 609.5h1M345 609.5h1M393 609.5h1M434 609.5h1M447 609.5h2M685 609.5h1M714 609.5h6M724 609.5h1M744 609.5h1M748 609.5h1M754 609.5h1M764 609.5h3M794 609.5h3M820 609.5h1M825 609.5h1M902 609.5h1M908 609.5h1M309 610.5h2M328 610.5h1M346 610.5h1M391 610.5h2M435 610.5h1M446 610.5h1M449 610.5h6M685 610.5h1M720 610.5h4M745 610.5h1M747 610.5h1M767 610.5h2M786 610.5h1M793 610.5h1M797 610.5h1M819 610.5h1M826 610.5h1M894 610.5h1M901 610.5h1M909 610.5h2M308 611.5h1M311 611.5h1M327 611.5h1M347 611.5h1M378 611.5h1M390 611.5h1M435 611.5h1M444 611.5h2M455 611.5h1M684 611.5h1M746 611.5h1M769 611.5h1M785 611.5h1M787 611.5h1M792 611.5h1M798 611.5h1M819 611.5h1M826 611.5h1M893 611.5h1M895 611.5h1M900 611.5h1M911 611.5h1M290 612.5h1M306 612.5h2M312 612.5h1M327 612.5h1M347 612.5h1M368 612.5h5M375 612.5h3M379 612.5h3M388 612.5h2M436 612.5h1M443 612.5h1M456 612.5h2M684 612.5h1M770 612.5h2M785 612.5h1M788 612.5h2M791 612.5h1M799 612.5h1M809 612.5h2M818 612.5h1M826 612.5h1M893 612.5h1M896 612.5h1M900 612.5h1M911 612.5h1M278 613.5h1M289 613.5h1M291 613.5h1M305 613.5h1M312 613.5h1M318 613.5h1M326 613.5h1M348 613.5h1M354 613.5h2M361 613.5h7M373 613.5h2M382 613.5h2M387 613.5h1M437 613.5h1M442 613.5h1M458 613.5h1M684 613.5h1M772 613.5h1M784 613.5h1M790 613.5h1M800 613.5h1M808 613.5h1M811 613.5h1M818 613.5h1M827 613.5h1M866 613.5h5M892 613.5h1M897 613.5h1M899 613.5h1M912 613.5h1M277 614.5h1M279 614.5h2M287 614.5h2M292 614.5h2M303 614.5h2M313 614.5h1M315 614.5h3M319 614.5h3M324 614.5h3M349 614.5h1M352 614.5h2M356 614.5h5M384 614.5h3M437 614.5h1M439 614.5h3M459 614.5h3M684 614.5h1M773 614.5h1M784 614.5h1M800 614.5h1M806 614.5h2M812 614.5h2M815 614.5h3M827 614.5h1M858 614.5h3M863 614.5h3M871 614.5h2M892 614.5h1M898 614.5h1M912 614.5h1M189 615.5h3M276 615.5h1M281 615.5h1M285 615.5h2M294 615.5h1M302 615.5h1M314 615.5h1M322 615.5h2M349 615.5h1M351 615.5h1M438 615.5h1M462 615.5h1M684 615.5h1M774 615.5h2M783 615.5h1M801 615.5h1M805 615.5h1M814 615.5h1M828 615.5h1M857 615.5h1M861 615.5h2M873 615.5h1M891 615.5h1M913 615.5h1M170 616.5h1M186 616.5h3M192 616.5h3M202 616.5h1M276 616.5h1M282 616.5h3M295 616.5h3M299 616.5h3M350 616.5h1M463 616.5h1M676 616.5h3M683 616.5h1M776 616.5h5M783 616.5h1M801 616.5h1M804 616.5h1M828 616.5h1M857 616.5h1M874 616.5h12M891 616.5h1M913 616.5h1M169 617.5h1M171 617.5h1M185 617.5h1M195 617.5h1M201 617.5h1M203 617.5h1M275 617.5h1M298 617.5h1M463 617.5h1M674 617.5h2M679 617.5h1M683 617.5h1M781 617.5h2M802 617.5h2M828 617.5h1M856 617.5h1M886 617.5h5M914 617.5h1M168 618.5h1M172 618.5h1M185 618.5h1M196 618.5h1M200 618.5h1M204 618.5h1M218 618.5h1M230 618.5h1M274 618.5h1M464 618.5h1M673 618.5h1M680 618.5h1M683 618.5h1M802 618.5h1M829 618.5h1M856 618.5h1M915 618.5h2M82 619.5h1M98 619.5h1M167 619.5h1M172 619.5h1M184 619.5h1M196 619.5h1M200 619.5h1M205 619.5h1M217 619.5h1M219 619.5h1M229 619.5h1M231 619.5h1M273 619.5h1M465 619.5h1M672 619.5h1M680 619.5h1M682 619.5h1M829 619.5h1M834 619.5h16M855 619.5h1M917 619.5h1M79 620.5h3M83 620.5h3M97 620.5h1M99 620.5h1M164 620.5h3M173 620.5h1M184 620.5h1M197 620.5h1M199 620.5h1M206 620.5h1M217 620.5h1M220 620.5h2M227 620.5h2M232 620.5h2M273 620.5h1M465 620.5h1M666 620.5h2M672 620.5h1M681 620.5h2M830 620.5h4M850 620.5h3M855 620.5h1M918 620.5h3M78 621.5h1M86 621.5h1M97 621.5h1M100 621.5h2M162 621.5h2M174 621.5h1M183 621.5h1M198 621.5h1M207 621.5h1M216 621.5h1M222 621.5h5M234 621.5h5M272 621.5h1M466 621.5h6M477 621.5h2M654 621.5h1M665 621.5h1M668 621.5h1M671 621.5h1M682 621.5h1M830 621.5h1M853 621.5h2M921 621.5h2M77 622.5h1M87 622.5h1M96 622.5h1M102 622.5h1M160 622.5h2M175 622.5h1M183 622.5h1M207 622.5h1M215 622.5h1M239 622.5h1M272 622.5h1M472 622.5h5M479 622.5h1M562 622.5h2M653 622.5h1M655 622.5h1M664 622.5h1M669 622.5h2M5 623.5h2M76 623.5h1M87 623.5h1M96 623.5h1M103 623.5h1M146 623.5h1M159 623.5h1M176 623.5h1M182 623.5h1M208 623.5h1M215 623.5h1M240 623.5h1M271 623.5h1M480 623.5h1M562 623.5h1M564 623.5h1M594 623.5h3M638 623.5h1M652 623.5h1M656 623.5h1M663 623.5h1M3 624.5h2M7 624.5h1M42 624.5h3M76 624.5h1M88 624.5h1M95 624.5h1M104 624.5h1M145 624.5h1M147 624.5h1M158 624.5h1M177 624.5h1M179 624.5h3M209 624.5h1M213 624.5h2M241 624.5h1M271 624.5h1M480 624.5h1M534 624.5h5M561 624.5h1M565 624.5h3M577 624.5h2M592 624.5h2M597 624.5h2M638 624.5h4M651 624.5h1M657 624.5h1M660 624.5h3M1 625.5h2M8 625.5h1M41 625.5h1M45 625.5h9M75 625.5h1M89 625.5h1M95 625.5h1M104 625.5h1M144 625.5h1M148 625.5h1M156 625.5h2M178 625.5h1M209 625.5h1M212 625.5h1M242 625.5h1M270 625.5h1M481 625.5h1M534 625.5h1M538 625.5h1M561 625.5h1M568 625.5h1M576 625.5h1M579 625.5h1M591 625.5h1M599 625.5h1M637 625.5h1M642 625.5h9M658 625.5h2M9 626.5h1M41 626.5h1M54 626.5h2M74 626.5h1M89 626.5h1M92 626.5h3M105 626.5h1M143 626.5h1M149 626.5h1M153 626.5h3M210 626.5h2M243 626.5h2M249 626.5h3M269 626.5h1M482 626.5h1M533 626.5h1M539 626.5h1M560 626.5h1M569 626.5h7M580 626.5h1M588 626.5h3M600 626.5h1M636 626.5h1M10 627.5h2M40 627.5h1M56 627.5h2M73 627.5h1M90 627.5h2M105 627.5h1M116 627.5h2M134 627.5h1M142 627.5h1M150 627.5h3M245 627.5h1M248 627.5h1M252 627.5h1M257 627.5h6M268 627.5h1M483 627.5h1M532 627.5h1M540 627.5h1M560 627.5h1M580 627.5h1M586 627.5h2M600 627.5h1M636 627.5h1M12 628.5h2M39 628.5h1M58 628.5h1M71 628.5h2M106 628.5h3M112 628.5h4M118 628.5h1M133 628.5h1M135 628.5h2M140 628.5h2M246 628.5h2M253 628.5h4M263 628.5h2M268 628.5h1M484 628.5h2M532 628.5h1M540 628.5h1M559 628.5h1M581 628.5h1M583 628.5h3M601 628.5h1M636 628.5h1M14 629.5h2M39 629.5h1M59 629.5h2M66 629.5h5M109 629.5h3M118 629.5h1M133 629.5h1M137 629.5h1M139 629.5h1M265 629.5h1M267 629.5h1M486 629.5h1M532 629.5h1M540 629.5h1M559 629.5h1M582 629.5h1M602 629.5h1M635 629.5h1M16 630.5h2M37 630.5h2M61 630.5h1M63 630.5h3M119 630.5h1M132 630.5h1M138 630.5h1M266 630.5h1M487 630.5h3M531 630.5h1M541 630.5h1M558 630.5h1M602 630.5h3M630 630.5h3M634 630.5h1M18 631.5h2M36 631.5h1M62 631.5h1M119 631.5h1M131 631.5h1M490 631.5h13M530 631.5h1M542 631.5h1M558 631.5h1M605 631.5h2M629 631.5h1M633 631.5h2M20 632.5h2M29 632.5h7M120 632.5h1M131 632.5h1M503 632.5h1M525 632.5h6M542 632.5h1M558 632.5h1M607 632.5h1M628 632.5h1M22 633.5h2M27 633.5h2M120 633.5h1M130 633.5h1M504 633.5h1M509 633.5h4M524 633.5h1M542 633.5h1M557 633.5h1M608 633.5h1M628 633.5h1M24 634.5h3M121 634.5h1M129 634.5h1M505 634.5h1M507 634.5h2M513 634.5h3M521 634.5h3M543 634.5h1M557 634.5h1M609 634.5h1M627 634.5h1M121 635.5h1M128 635.5h1M506 635.5h1M516 635.5h1M520 635.5h1M544 635.5h1M556 635.5h1M610 635.5h1M626 635.5h1M122 636.5h2M128 636.5h1M517 636.5h3M544 636.5h1M556 636.5h1M611 636.5h3M625 636.5h1M124 637.5h1M127 637.5h1M544 637.5h1M556 637.5h1M614 637.5h2M624 637.5h1M125 638.5h2M545 638.5h1M555 638.5h1M616 638.5h5M623 638.5h1M546 639.5h1M555 639.5h1M621 639.5h2M546 640.5h7M554 640.5h1M553 641.5h2" fill="none" stroke="#1e90ff" stroke-width="1" shape-rendering="crispEdges"/>
<g shape-rendering="crispEdges">
<rect x="1" y="25" width="1164" height="1" fill="#000"/>
<rect x="1" y="485" width="1164" height="1" fill="#000"/>
<rect x="1" y="25" width="1" height="461" fill="#000"/>
<rect x="1164" y="25" width="1" height="461" fill="#000"/>
<rect x="1" y="487" width="1164" height="1" fill="#000"/>
<rect x="1" y="571" width="1164" height="1" fill="#000"/>
<rect x="1" y="487" width="1" height="85" fill="#000"/>
<rect x="1164" y="487" width="1" height="85" fill="#000"/>
<rect x="1" y="573" width="1164" height="1" fill="#000"/>
<rect x="1" y="660" width="1164" height="1" fill="#000"/>
<rect x="1" y="573" width="1" height="88" fill="#000"/>
<rect x="1164" y="573" width="1" height="88" fill="#000"/>
<rect x="1" y="291" width="6" height="6" fill="#00ff00"/>
<rect x="3" y="293" width="2" height="2" fill="#fff"/>
<rect x="1158" y="291" width="6" height="6" fill="#00ff00"/>
<rect x="1160" y="293" width="2" height="2" fill="#fff"/>
<rect x="1" y="382" width="6" height="6" fill="#0000ff"/>
<rect x="3" y="384" width="2" height="2" fill="#fff"/>
<rect x="1158" y="382" width="6" height="6" fill="#0000ff"/>
<rect x="1160" y="384" width="2" height="2" fill="#fff"/>
<rect x="1165" y="53" width="2" height="1" fill="#000"/>
<rect x="1165" y="86" width="2" height="1" fill="#000"/>
<rect x="1165" y="119" width="2" height="1" fill="#000"/>
<rect x="1165" y="152" width="2" height="1" fill="#000"/>
<rect x="1165" y="185" width="2" height="1" fill="#000"/>
<rect x="1165" y="218" width="2" height="1" fill="#000"/>
<rect x="1165" y="251" width="2" height="1" fill="#000"/>
<rect x="1165" y="284" width="2" height="1" fill="#000"/>
<rect x="1165" y="317" width="2" height="1" fill="#000"/>
<rect x="1165" y="350" width="2" height="1" fill="#000"/>
<rect x="1165" y="383" width="2" height="1" fill="#000"/>
<rect x="1165" y="416" width="2" height="1" fill="#000"/>
<rect x="1165" y="449" width="2" height="1" fill="#000"/>
<rect x="1165" y="482" width="2" height="1" fill="#000"/>
<rect x="1165" y="489" width="2" height="1" fill="#000"/>
<rect x="1165" y="523" width="2" height="1" fill="#000"/>
<rect x="1165" y="569" width="2" height="1" fill="#000"/>
<rect x="1165" y="600" width="2" height="1" fill="#000"/>
<rect x="1165" y="634" width="2" height="1" fill="#000"/>
<rect x="2" y="661" width="1" height="3" fill="#000"/>
<rect x="66" y="661" width="1" height="3" fill="#000"/>
<rect x="130" y="661" width="1" height="3" fill="#000"/>
<rect x="194" y="661" width="1" height="3" fill="#000"/>
<rect x="258" y="661" width="1" height="3" fill="#000"/>
<rect x="322" y="661" width="1" height="3" fill="#000"/>
<rect x="386" y="661" width="1" height="3" fill="#000"/>
<rect x="450" y="661" width="1" height="3" fill="#000"/>
<rect x="514" y="661" width="1" height="3" fill="#000"/>
<rect x="578" y="661" width="1" height="3" fill="#000"/>
<rect x="642" y="661" width="1" height="3" fill="#000"/>
<rect x="706" y="661" width="1" height="3" fill="#000"/>
<rect x="770" y="661" width="1" height="3" fill="#000"/>
<rect x="834" y="661" width="1" height="3" fill="#000"/>
<rect x="898" y="661" width="1" height="3" fill="#000"/>
</g>
<text transform="translate(1169.90,57.10) scale(0.9046,1)" font-size="10" fill="#000" stroke="#000" stroke-width="0.2">6.58400</text>
<text transform="translate(1169.90,90.10) scale(0.9046,1)" font-size="10" fill="#000" stroke="#000" stroke-width="0.2">6.56550</text>
<text transform="translate(1169.90,123.10) scale(0.9046,1)" font-size="10" fill="#000" stroke="#000" stroke-width="0.2">6.54750</text>
<text transform="translate(1169.90,156.10) scale(0.9046,1)" font-size="10" fill="#000" stroke="#000" stroke-width="0.2">6.52900</text>
<text transform="translate(1169.90,189.10) scale(0.9237,1)" font-size="10" fill="#000" stroke="#000" stroke-width="0.2">6.51100</text>
<text transform="translate(1169.90,222.10) scale(0.9046,1)" font-size="10" fill="#000" stroke="#000" stroke-width="0.2">6.49250</text>
<text transform="translate(1169.90,255.10) scale(0.9046,1)" font-size="10" fill="#000" stroke="#000" stroke-width="0.2">6.47450</text>
<text transform="translate(1169.90,288.10) scale(0.9046,1)" font-size="10" fill="#000" stroke="#000" stroke-width="0.2">6.45600</text>
<text transform="translate(1169.90,321.10) scale(0.9046,1)" font-size="10" fill="#000" stroke="#000" stroke-width="0.2">6.43800</text>
<text transform="translate(1169.90,354.10) scale(0.9046,1)" font-size="10" fill="#000" stroke="#000" stroke-width="0.2">6.41950</text>
<text transform="translate(1169.90,387.10) scale(0.9046,1)" font-size="10" fill="#000" stroke="#000" stroke-width="0.2">6.40100</text>
<text transform="translate(1169.90,420.10) scale(0.9046,1)" font-size="10" fill="#000" stroke="#000" stroke-width="0.2">6.38350</text>
<text transform="translate(1169.90,453.10) scale(0.9046,1)" font-size="10" fill="#000" stroke="#000" stroke-width="0.2">6.36500</text>
<text transform="translate(1169.90,486.10) scale(0.9046,1)" font-size="10" fill="#000" stroke="#000" stroke-width="0.2">6.34700</text>
<g shape-rendering="crispEdges">
<rect x="1166" y="45" width="38" height="11" fill="#ff0000"/>
<rect x="1166" y="170" width="38" height="11" fill="#ff0000"/>
<rect x="1166" y="258" width="38" height="11" fill="#000000"/>
<rect x="1166" y="288" width="38" height="11" fill="#00ff00"/>
<rect x="1166" y="379" width="38" height="11" fill="#0000ff"/>
<rect x="1166" y="470" width="38" height="11" fill="#0000ff"/>
</g>
<text transform="translate(1169.90,54.30) scale(0.9046,1)" font-size="10" fill="#fff">6.58514</text>
<text transform="translate(1169.90,179.30) scale(0.9046,1)" font-size="10" fill="#fff">6.51605</text>
<text transform="translate(1169.90,267.30) scale(0.9046,1)" font-size="10" fill="#fff">6.46788</text>
<text transform="translate(1169.90,297.30) scale(0.9046,1)" font-size="10" fill="#fff">6.45060</text>
<text transform="translate(1169.90,388.30) scale(0.9046,1)" font-size="10" fill="#fff">6.40042</text>
<text transform="translate(1169.90,479.30) scale(0.9046,1)" font-size="10" fill="#fff">6.35025</text>
<g clip-path="url(#cr)">
<text transform="translate(1168.30,497.80) scale(0.9046,1)" font-size="10" fill="#000" stroke="#000" stroke-width="0.2">0.025342</text>
<text transform="translate(1168.30,526.80) scale(0.9046,1)" font-size="10" fill="#000" stroke="#000" stroke-width="0.2">0.00</text>
<text transform="translate(1168.30,567.80) scale(0.9046,1)" font-size="10" fill="#000" stroke="#000" stroke-width="0.2">-0.03479</text>
<text transform="translate(1168.60,584.10) scale(0.9046,1)" font-size="10" fill="#000" stroke="#000" stroke-width="0.2">100</text>
<text transform="translate(1168.30,604.10) scale(0.9046,1)" font-size="10" fill="#000" stroke="#000" stroke-width="0.2">70</text>
<text transform="translate(1168.30,637.60) scale(0.9046,1)" font-size="10" fill="#000" stroke="#000" stroke-width="0.2">30</text>
<text transform="translate(1168.60,657.10) scale(0.9046,1)" font-size="10" fill="#000" stroke="#000" stroke-width="0.2">0</text>
</g>
<text transform="translate(17.60,36.70) scale(0.9528,1)" font-size="10" fill="#000" stroke="#000" stroke-width="0.2">USDCNH,Daily</text>
<text transform="translate(89.20,36.70) scale(0.8714,1)" font-size="10" fill="#000" stroke="#000" stroke-width="0.2">6.47002</text>
<text transform="translate(125.20,36.70) scale(0.8714,1)" font-size="10" fill="#000" stroke="#000" stroke-width="0.2">6.47438</text>
<text transform="translate(161.20,36.70) scale(0.8714,1)" font-size="10" fill="#000" stroke="#000" stroke-width="0.2">6.46656</text>
<text transform="translate(197.20,36.70) scale(0.8714,1)" font-size="10" fill="#000" stroke="#000" stroke-width="0.2">6.46788</text>
<text transform="translate(6.00,500.00) scale(0.9474,1)" font-size="10" fill="#000" stroke="#000" stroke-width="0.2">MACD(12,26,9)</text>
<text transform="translate(75.30,500.00) scale(0.8969,1)" font-size="10" fill="#000" stroke="#000" stroke-width="0.2">0.002164</text>
<text transform="translate(116.00,500.00) scale(0.9113,1)" font-size="10" fill="#000" stroke="#000" stroke-width="0.2">0.003977</text>
<text transform="translate(6.00,586.00) scale(0.9202,1)" font-size="10" fill="#000" stroke="#000" stroke-width="0.2">RSI(14)</text>
<text transform="translate(40.40,586.00) scale(0.9184,1)" font-size="10" fill="#000" stroke="#000" stroke-width="0.2">45.1078</text>
<path d="M5 36 L12 36 L8.5 31.8 Z" fill="#000"/>
<text transform="translate(-2.20,13.00) scale(0.9800,1)" font-size="10" fill="#333">5</text>
<text transform="translate(14.00,13.00) scale(0.8740,1)" font-size="10" fill="#333">M30</text>
<text transform="translate(44.50,13.00) scale(0.8984,1)" font-size="10" fill="#333">H1</text>
<text transform="translate(72.00,13.00) scale(0.9609,1)" font-size="10" fill="#333">H4</text>
<text transform="translate(100.50,13.00) scale(0.8984,1)" font-size="10" fill="#333">D1</text>
<text transform="translate(128.00,13.00) scale(0.9333,1)" font-size="10" fill="#333">W1</text>
<text transform="translate(155.00,13.00) scale(0.9003,1)" font-size="10" fill="#333">MN</text>
<text transform="translate(2.30,673.30) scale(0.9295,1)" font-size="10" fill="#000" stroke="#000" stroke-width="0.2">28 Nov 2020</text>
<text transform="translate(66.30,673.30) scale(0.9295,1)" font-size="10" fill="#000" stroke="#000" stroke-width="0.2">17 Dec 2020</text>
<text transform="translate(130.30,673.30) scale(0.9295,1)" font-size="10" fill="#000" stroke="#000" stroke-width="0.2">6 Jan 2021</text>
<text transform="translate(194.30,673.30) scale(0.9295,1)" font-size="10" fill="#000" stroke="#000" stroke-width="0.2">25 Jan 2021</text>
<text transform="translate(258.30,673.30) scale(0.9295,1)" font-size="10" fill="#000" stroke="#000" stroke-width="0.2">12 Feb 2021</text>
<text transform="translate(322.30,673.30) scale(0.9295,1)" font-size="10" fill="#000" stroke="#000" stroke-width="0.2">3 Mar 2021</text>
<text transform="translate(386.30,673.30) scale(0.9295,1)" font-size="10" fill="#000" stroke="#000" stroke-width="0.2">22 Mar 2021</text>
<text transform="translate(450.30,673.30) scale(0.9295,1)" font-size="10" fill="#000" stroke="#000" stroke-width="0.2">9 Apr 2021</text>
<text transform="translate(514.30,673.30) scale(0.9295,1)" font-size="10" fill="#000" stroke="#000" stroke-width="0.2">28 Apr 2021</text>
<text transform="translate(578.30,673.30) scale(0.9295,1)" font-size="10" fill="#000" stroke="#000" stroke-width="0.2">17 May 2021</text>
<text transform="translate(642.30,673.30) scale(0.9295,1)" font-size="10" fill="#000" stroke="#000" stroke-width="0.2">4 Jun 2021</text>
<text transform="translate(706.30,673.30) scale(0.9295,1)" font-size="10" fill="#000" stroke="#000" stroke-width="0.2">23 Jun 2021</text>
<text transform="translate(770.30,673.30) scale(0.9295,1)" font-size="10" fill="#000" stroke="#000" stroke-width="0.2">12 Jul 2021</text>
<text transform="translate(834.30,673.30) scale(0.9295,1)" font-size="10" fill="#000" stroke="#000" stroke-width="0.2">30 Jul 2021</text>
<text transform="translate(898.30,673.30) scale(0.9295,1)" font-size="10" fill="#000" stroke="#000" stroke-width="0.2">18 Aug 2021</text>
<g shape-rendering="crispEdges">
<rect x="0" y="682" width="1204" height="1" fill="#e0e0e0"/>
<rect x="0" y="683" width="1204" height="1" fill="#000"/>
<rect x="0" y="684" width="1204" height="20" fill="#f0f0f0"/>
<rect x="0" y="704" width="1204" height="1" fill="#f8f8f8"/>
<rect x="0" y="705" width="1204" height="2" fill="#fff"/>
<rect x="0" y="707" width="1204" height="1" fill="#a0a0a0"/>
<rect x="0" y="708" width="1204" height="3" fill="#fff"/>
<rect x="392" y="683" width="103" height="19" fill="#fff"/>
<rect x="392" y="683" width="1" height="19" fill="#000"/>
<rect x="494" y="683" width="1" height="19" fill="#000"/>
<rect x="392" y="701" width="103" height="1" fill="#000"/>
<rect x="95" y="686" width="1" height="14" fill="#808080"/>
<rect x="199" y="686" width="1" height="14" fill="#808080"/>
<rect x="287" y="686" width="1" height="14" fill="#808080"/>
<rect x="571" y="686" width="1" height="14" fill="#808080"/>
<rect x="639" y="686" width="1" height="14" fill="#808080"/>
<rect x="715" y="686" width="1" height="14" fill="#808080"/>
<rect x="807" y="686" width="1" height="14" fill="#808080"/>
<rect x="900" y="686" width="1" height="14" fill="#808080"/>
<rect x="108" y="708" width="1" height="3" fill="#d0d0d0"/>
<rect x="192" y="708" width="1" height="3" fill="#d0d0d0"/>
<rect x="301" y="708" width="1" height="3" fill="#d0d0d0"/>
<rect x="420" y="708" width="1" height="3" fill="#d0d0d0"/>
<rect x="540" y="708" width="1" height="3" fill="#d0d0d0"/>
<rect x="780" y="708" width="1" height="3" fill="#d0d0d0"/>
<rect x="900" y="708" width="1" height="3" fill="#d0d0d0"/>
</g>
<path d="M1183 689 L1183 696 L1179.5 692.5 Z" fill="#a8a8a8"/>
<path d="M1199 689 L1199 696 L1202.5 692.5 Z" fill="#a8a8a8"/>
<text transform="translate(15.50,697.50) scale(0.9494,1)" font-size="12.3" fill="#686868">EURUSD,H4</text>
<text transform="translate(106.00,697.50) scale(0.9913,1)" font-size="12.3" fill="#686868">AUDUSD,Daily</text>
<text transform="translate(209.50,697.50) scale(0.9637,1)" font-size="12.3" fill="#686868">USDCHF,H4</text>
<text transform="translate(299.00,697.50) scale(0.9732,1)" font-size="12.3" fill="#686868">USDCAD,Daily</text>
<text transform="translate(507.50,697.50) scale(0.9982,1)" font-size="12.3" fill="#686868">UKOil,H1</text>
<text transform="translate(581.70,697.50) scale(0.9572,1)" font-size="12.3" fill="#686868">DJ30,H1</text>
<text transform="translate(652.00,697.50) scale(0.9471,1)" font-size="12.3" fill="#686868">USDX,H1</text>
<text transform="translate(726.00,697.50) scale(0.9799,1)" font-size="12.3" fill="#686868">XAUUSD,H1</text>
<text transform="translate(820.00,697.50) scale(0.9424,1)" font-size="12.3" fill="#686868">GBPUSD,H1</text>
<text transform="translate(402.00,697.50) scale(0.9833,1)" font-size="12.3" fill="#000">USDCNH,Daily</text>
<g shape-rendering="crispEdges">
<rect x="3" y="45" width="223" height="59" fill="#fff"/>
<rect x="5" y="45" width="52" height="25" fill="url(#gt)"/>
<rect x="5" y="69" width="109" height="33" fill="url(#gb)"/>
<rect x="5" y="45" width="1" height="57" fill="#b40000"/>
<rect x="5" y="45" width="52" height="1" fill="#c03030"/>
<rect x="56" y="45" width="1" height="24" fill="#c02020"/>
<rect x="5" y="101" width="109" height="1" fill="#a00000"/>
<rect x="113" y="69" width="1" height="33" fill="#a80000"/>
<rect x="9" y="68" width="44" height="1" fill="#8b0000"/>
<rect x="9" y="69" width="44" height="1" fill="#ff7070"/>
<rect x="172" y="45" width="52" height="25" fill="url(#gt)"/>
<rect x="116" y="69" width="108" height="33" fill="url(#gb)"/>
<rect x="223" y="45" width="1" height="57" fill="#b40000"/>
<rect x="172" y="45" width="52" height="1" fill="#c03030"/>
<rect x="172" y="45" width="1" height="24" fill="#c02020"/>
<rect x="116" y="101" width="108" height="1" fill="#a00000"/>
<rect x="116" y="69" width="1" height="33" fill="#a80000"/>
<rect x="176" y="68" width="44" height="1" fill="#8b0000"/>
<rect x="176" y="69" width="44" height="1" fill="#ff7070"/>
<rect x="59" y="45" width="111" height="22" fill="#abadb3"/>
<rect x="60" y="46" width="109" height="20" fill="#fff"/>
<rect x="61" y="47" width="19" height="18" fill="#c8c8c8"/>
<rect x="62" y="48" width="17" height="16" fill="url(#gg)"/>
<rect x="149" y="47" width="19" height="18" fill="#c8c8c8"/>
<rect x="150" y="48" width="17" height="16" fill="url(#gg)"/>
</g>
<path d="M67.3 54.3 L72.7 54.3 L70 57.3 Z" fill="#4860b8"/><path d="M155.6 57.5 L161.4 57.5 L158.5 54.2 Z" fill="#4860b8"/>
<text transform="translate(17.50,60.40) scale(0.8764,1)" font-size="11.9" fill="#fff">SELL</text>
<text transform="translate(185.50,60.40) scale(0.9405,1)" font-size="11.9" fill="#fff">BUY</text>
<text transform="translate(121.50,60.20) scale(1.0598,1)" font-size="11.4" fill="#111">3.00</text>
<text transform="translate(25.20,96.70) scale(1.0069,1)" font-size="12" fill="#fff" font-weight="bold">6.46</text>
<text transform="translate(135.20,96.70) scale(1.0069,1)" font-size="12" fill="#fff" font-weight="bold">6.47</text>
<text transform="translate(52.60,97.20) scale(0.8880,1)" font-size="35" fill="#fff" stroke="url(#gb)" stroke-width="0.7">79</text>
<text transform="translate(163.50,97.20) scale(0.8752,1)" font-size="35" fill="#fff" stroke="url(#gb)" stroke-width="0.7">22</text>
<text transform="translate(92.60,80.75) scale(0.9957,1)" font-size="11.4" fill="#fff" font-weight="bold">1</text>
<text transform="translate(203.20,80.75) scale(1.0748,1)" font-size="11.4" fill="#fff" font-weight="bold">6</text>
</svg>
</body></html>
